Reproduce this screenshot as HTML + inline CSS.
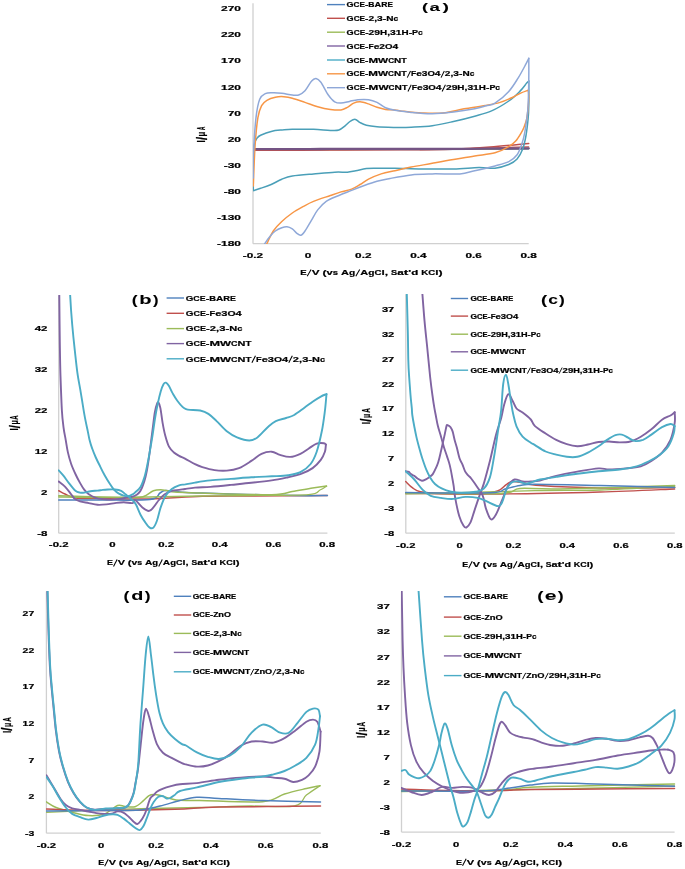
<!DOCTYPE html>
<html><head><meta charset="utf-8"><style>
html,body{margin:0;padding:0;background:#fff;}
svg{display:block;will-change:transform;filter:blur(0.3px);}
text{font-family:"Liberation Sans", sans-serif;stroke:#000;stroke-width:0.2px;stroke-linejoin:round;}
</style></head><body>
<svg width="685" height="869" viewBox="0 0 685 869">
<rect width="685" height="869" fill="#fff"/>
<clipPath id="ca"><rect x="253" y="3" width="277" height="241"/></clipPath>
<line x1="253.0" y1="3.2" x2="253.0" y2="243.7" stroke="#D0D0D0" stroke-width="1.3"/>
<line x1="253.0" y1="243.7" x2="528.7" y2="243.7" stroke="#D0D0D0" stroke-width="1.3"/>
<text x="221.08" y="11.1" font-size="7.7" font-weight="bold" fill="#000" textLength="6.64" lengthAdjust="spacingAndGlyphs">2</text>
<text x="227.72" y="11.1" font-size="7.7" font-weight="bold" fill="#000" textLength="6.64" lengthAdjust="spacingAndGlyphs">7</text>
<text x="234.36" y="11.1" font-size="7.7" font-weight="bold" fill="#000" textLength="6.64" lengthAdjust="spacingAndGlyphs">0</text>
<text x="221.08" y="37.2" font-size="7.7" font-weight="bold" fill="#000" textLength="6.64" lengthAdjust="spacingAndGlyphs">2</text>
<text x="227.72" y="37.2" font-size="7.7" font-weight="bold" fill="#000" textLength="6.64" lengthAdjust="spacingAndGlyphs">2</text>
<text x="234.36" y="37.2" font-size="7.7" font-weight="bold" fill="#000" textLength="6.64" lengthAdjust="spacingAndGlyphs">0</text>
<text x="221.08" y="63.4" font-size="7.7" font-weight="bold" fill="#000" textLength="6.64" lengthAdjust="spacingAndGlyphs">1</text>
<text x="227.72" y="63.4" font-size="7.7" font-weight="bold" fill="#000" textLength="6.64" lengthAdjust="spacingAndGlyphs">7</text>
<text x="234.36" y="63.4" font-size="7.7" font-weight="bold" fill="#000" textLength="6.64" lengthAdjust="spacingAndGlyphs">0</text>
<text x="221.08" y="89.5" font-size="7.7" font-weight="bold" fill="#000" textLength="6.64" lengthAdjust="spacingAndGlyphs">1</text>
<text x="227.72" y="89.5" font-size="7.7" font-weight="bold" fill="#000" textLength="6.64" lengthAdjust="spacingAndGlyphs">2</text>
<text x="234.36" y="89.5" font-size="7.7" font-weight="bold" fill="#000" textLength="6.64" lengthAdjust="spacingAndGlyphs">0</text>
<text x="227.72" y="115.7" font-size="7.7" font-weight="bold" fill="#000" textLength="6.64" lengthAdjust="spacingAndGlyphs">7</text>
<text x="234.36" y="115.7" font-size="7.7" font-weight="bold" fill="#000" textLength="6.64" lengthAdjust="spacingAndGlyphs">0</text>
<text x="227.72" y="141.8" font-size="7.7" font-weight="bold" fill="#000" textLength="6.64" lengthAdjust="spacingAndGlyphs">2</text>
<text x="234.36" y="141.8" font-size="7.7" font-weight="bold" fill="#000" textLength="6.64" lengthAdjust="spacingAndGlyphs">0</text>
<text x="223.71" y="168.0" font-size="7.7" font-weight="bold" fill="#000" textLength="4.01" lengthAdjust="spacingAndGlyphs">-</text>
<text x="227.72" y="168.0" font-size="7.7" font-weight="bold" fill="#000" textLength="6.64" lengthAdjust="spacingAndGlyphs">3</text>
<text x="234.36" y="168.0" font-size="7.7" font-weight="bold" fill="#000" textLength="6.64" lengthAdjust="spacingAndGlyphs">0</text>
<text x="223.71" y="194.1" font-size="7.7" font-weight="bold" fill="#000" textLength="4.01" lengthAdjust="spacingAndGlyphs">-</text>
<text x="227.72" y="194.1" font-size="7.7" font-weight="bold" fill="#000" textLength="6.64" lengthAdjust="spacingAndGlyphs">8</text>
<text x="234.36" y="194.1" font-size="7.7" font-weight="bold" fill="#000" textLength="6.64" lengthAdjust="spacingAndGlyphs">0</text>
<text x="217.07" y="220.3" font-size="7.7" font-weight="bold" fill="#000" textLength="4.01" lengthAdjust="spacingAndGlyphs">-</text>
<text x="221.08" y="220.3" font-size="7.7" font-weight="bold" fill="#000" textLength="6.64" lengthAdjust="spacingAndGlyphs">1</text>
<text x="227.72" y="220.3" font-size="7.7" font-weight="bold" fill="#000" textLength="6.64" lengthAdjust="spacingAndGlyphs">3</text>
<text x="234.36" y="220.3" font-size="7.7" font-weight="bold" fill="#000" textLength="6.64" lengthAdjust="spacingAndGlyphs">0</text>
<text x="217.07" y="246.4" font-size="7.7" font-weight="bold" fill="#000" textLength="4.01" lengthAdjust="spacingAndGlyphs">-</text>
<text x="221.08" y="246.4" font-size="7.7" font-weight="bold" fill="#000" textLength="6.64" lengthAdjust="spacingAndGlyphs">1</text>
<text x="227.72" y="246.4" font-size="7.7" font-weight="bold" fill="#000" textLength="6.64" lengthAdjust="spacingAndGlyphs">8</text>
<text x="234.36" y="246.4" font-size="7.7" font-weight="bold" fill="#000" textLength="6.64" lengthAdjust="spacingAndGlyphs">0</text>
<text x="242.82" y="258.2" font-size="7.4" font-weight="bold" fill="#000" textLength="3.96" lengthAdjust="spacingAndGlyphs">-</text>
<text x="246.78" y="258.2" font-size="7.4" font-weight="bold" fill="#000" textLength="6.56" lengthAdjust="spacingAndGlyphs">0</text>
<text x="253.35" y="258.2" font-size="7.4" font-weight="bold" fill="#000" textLength="3.27" lengthAdjust="spacingAndGlyphs">.</text>
<text x="256.62" y="258.2" font-size="7.4" font-weight="bold" fill="#000" textLength="6.56" lengthAdjust="spacingAndGlyphs">2</text>
<text x="304.87" y="258.2" font-size="7.4" font-weight="bold" fill="#000" textLength="6.56" lengthAdjust="spacingAndGlyphs">0</text>
<text x="355.10" y="258.2" font-size="7.4" font-weight="bold" fill="#000" textLength="6.56" lengthAdjust="spacingAndGlyphs">0</text>
<text x="361.67" y="258.2" font-size="7.4" font-weight="bold" fill="#000" textLength="3.27" lengthAdjust="spacingAndGlyphs">.</text>
<text x="364.93" y="258.2" font-size="7.4" font-weight="bold" fill="#000" textLength="6.56" lengthAdjust="spacingAndGlyphs">2</text>
<text x="410.25" y="258.2" font-size="7.4" font-weight="bold" fill="#000" textLength="6.56" lengthAdjust="spacingAndGlyphs">0</text>
<text x="416.82" y="258.2" font-size="7.4" font-weight="bold" fill="#000" textLength="3.27" lengthAdjust="spacingAndGlyphs">.</text>
<text x="420.08" y="258.2" font-size="7.4" font-weight="bold" fill="#000" textLength="6.56" lengthAdjust="spacingAndGlyphs">4</text>
<text x="465.40" y="258.2" font-size="7.4" font-weight="bold" fill="#000" textLength="6.56" lengthAdjust="spacingAndGlyphs">0</text>
<text x="471.97" y="258.2" font-size="7.4" font-weight="bold" fill="#000" textLength="3.27" lengthAdjust="spacingAndGlyphs">.</text>
<text x="475.23" y="258.2" font-size="7.4" font-weight="bold" fill="#000" textLength="6.56" lengthAdjust="spacingAndGlyphs">6</text>
<text x="520.55" y="258.2" font-size="7.4" font-weight="bold" fill="#000" textLength="6.56" lengthAdjust="spacingAndGlyphs">0</text>
<text x="527.12" y="258.2" font-size="7.4" font-weight="bold" fill="#000" textLength="3.27" lengthAdjust="spacingAndGlyphs">.</text>
<text x="530.38" y="258.2" font-size="7.4" font-weight="bold" fill="#000" textLength="6.56" lengthAdjust="spacingAndGlyphs">8</text>
<text x="300.20" y="275.1" font-size="7.3" font-weight="bold" fill="#000" textLength="6.40" lengthAdjust="spacingAndGlyphs">E</text>
<line x1="307.21" y1="276.34" x2="311.08" y2="269.55" stroke="#000" stroke-width="1.02"/>
<text x="311.69" y="275.1" font-size="7.3" font-weight="bold" fill="#000" textLength="7.84" lengthAdjust="spacingAndGlyphs">V</text>
<text x="322.50" y="275.1" font-size="7.3" font-weight="bold" fill="#000" textLength="4.09" lengthAdjust="spacingAndGlyphs">(</text>
<text x="326.59" y="275.1" font-size="7.3" font-weight="bold" fill="#000" textLength="6.23" lengthAdjust="spacingAndGlyphs">v</text>
<text x="332.82" y="275.1" font-size="7.3" font-weight="bold" fill="#000" textLength="5.25" lengthAdjust="spacingAndGlyphs">s</text>
<text x="341.04" y="275.1" font-size="7.3" font-weight="bold" fill="#000" textLength="7.96" lengthAdjust="spacingAndGlyphs">A</text>
<text x="349.00" y="275.1" font-size="7.3" font-weight="bold" fill="#000" textLength="6.21" lengthAdjust="spacingAndGlyphs">g</text>
<line x1="355.82" y1="276.34" x2="359.69" y2="269.55" stroke="#000" stroke-width="1.02"/>
<text x="360.30" y="275.1" font-size="7.3" font-weight="bold" fill="#000" textLength="7.96" lengthAdjust="spacingAndGlyphs">A</text>
<text x="368.26" y="275.1" font-size="7.3" font-weight="bold" fill="#000" textLength="6.21" lengthAdjust="spacingAndGlyphs">g</text>
<text x="374.46" y="275.1" font-size="7.3" font-weight="bold" fill="#000" textLength="6.98" lengthAdjust="spacingAndGlyphs">C</text>
<text x="381.45" y="275.1" font-size="7.3" font-weight="bold" fill="#000" textLength="3.23" lengthAdjust="spacingAndGlyphs">l</text>
<text x="384.68" y="275.1" font-size="7.3" font-weight="bold" fill="#000" textLength="3.39" lengthAdjust="spacingAndGlyphs">,</text>
<text x="391.04" y="275.1" font-size="7.3" font-weight="bold" fill="#000" textLength="6.19" lengthAdjust="spacingAndGlyphs">S</text>
<text x="397.23" y="275.1" font-size="7.3" font-weight="bold" fill="#000" textLength="6.48" lengthAdjust="spacingAndGlyphs">a</text>
<text x="403.71" y="275.1" font-size="7.3" font-weight="bold" fill="#000" textLength="4.55" lengthAdjust="spacingAndGlyphs">t</text>
<text x="408.26" y="275.1" font-size="7.3" font-weight="bold" fill="#000" textLength="2.97" lengthAdjust="spacingAndGlyphs">'</text>
<text x="411.23" y="275.1" font-size="7.3" font-weight="bold" fill="#000" textLength="7.06" lengthAdjust="spacingAndGlyphs">d</text>
<text x="421.26" y="275.1" font-size="7.3" font-weight="bold" fill="#000" textLength="7.13" lengthAdjust="spacingAndGlyphs">K</text>
<text x="428.39" y="275.1" font-size="7.3" font-weight="bold" fill="#000" textLength="6.98" lengthAdjust="spacingAndGlyphs">C</text>
<text x="435.38" y="275.1" font-size="7.3" font-weight="bold" fill="#000" textLength="3.23" lengthAdjust="spacingAndGlyphs">l</text>
<text x="438.61" y="275.1" font-size="7.3" font-weight="bold" fill="#000" textLength="4.09" lengthAdjust="spacingAndGlyphs">)</text>
<text transform="translate(205.20,130.01) rotate(-90) scale(0.680,1.661)" font-size="7.0" font-weight="bold" fill="#000" style="stroke-width:0.12px">A</text>
<text transform="translate(205.20,136.44) rotate(-90) scale(1.110,1.661)" font-size="7.0" font-weight="bold" fill="#000" style="stroke-width:0.12px">μ</text>
<text transform="translate(206.69,139.90) rotate(-90) scale(1.538,2.109)" font-size="7.0" font-weight="bold" fill="#000" style="stroke-width:0.12px">/</text>
<text transform="translate(205.20,142.60) rotate(-90) scale(1.084,1.661)" font-size="7.0" font-weight="bold" fill="#000" style="stroke-width:0.12px">I</text>
<text x="421.92" y="11.40" font-size="11.8" font-weight="bold" fill="#000" textLength="6.00" lengthAdjust="spacingAndGlyphs" style="stroke-width:0.05px">(</text>
<text x="429.46" y="11.40" font-size="11.8" font-weight="bold" fill="#000" textLength="10.41" lengthAdjust="spacingAndGlyphs" style="stroke-width:0.05px">a</text>
<text x="442.48" y="11.40" font-size="11.8" font-weight="bold" fill="#000" textLength="6.47" lengthAdjust="spacingAndGlyphs" style="stroke-width:0.05px">)</text>
<line x1="327.0" y1="4.6" x2="345.0" y2="4.6" stroke="#4F81BD" stroke-width="1.4"/>
<text x="346.60" y="7.2" font-size="7.2" font-weight="bold" fill="#000" textLength="7.00" lengthAdjust="spacingAndGlyphs">G</text>
<text x="353.60" y="7.2" font-size="7.2" font-weight="bold" fill="#000" textLength="5.90" lengthAdjust="spacingAndGlyphs">C</text>
<text x="359.51" y="7.2" font-size="7.2" font-weight="bold" fill="#000" textLength="5.41" lengthAdjust="spacingAndGlyphs">E</text>
<text x="364.92" y="7.2" font-size="7.2" font-weight="bold" fill="#000" textLength="3.40" lengthAdjust="spacingAndGlyphs">-</text>
<text x="368.31" y="7.2" font-size="7.2" font-weight="bold" fill="#000" textLength="6.20" lengthAdjust="spacingAndGlyphs">B</text>
<text x="374.51" y="7.2" font-size="7.2" font-weight="bold" fill="#000" textLength="6.73" lengthAdjust="spacingAndGlyphs">A</text>
<text x="381.24" y="7.2" font-size="7.2" font-weight="bold" fill="#000" textLength="6.25" lengthAdjust="spacingAndGlyphs">R</text>
<text x="387.49" y="7.2" font-size="7.2" font-weight="bold" fill="#000" textLength="5.41" lengthAdjust="spacingAndGlyphs">E</text>
<line x1="327.0" y1="18.3" x2="345.0" y2="18.3" stroke="#C0504D" stroke-width="1.4"/>
<text x="346.60" y="20.9" font-size="7.2" font-weight="bold" fill="#000" textLength="7.07" lengthAdjust="spacingAndGlyphs">G</text>
<text x="353.67" y="20.9" font-size="7.2" font-weight="bold" fill="#000" textLength="5.96" lengthAdjust="spacingAndGlyphs">C</text>
<text x="359.64" y="20.9" font-size="7.2" font-weight="bold" fill="#000" textLength="5.46" lengthAdjust="spacingAndGlyphs">E</text>
<text x="365.10" y="20.9" font-size="7.2" font-weight="bold" fill="#000" textLength="3.43" lengthAdjust="spacingAndGlyphs">-</text>
<text x="368.53" y="20.9" font-size="7.2" font-weight="bold" fill="#000" textLength="5.68" lengthAdjust="spacingAndGlyphs">2</text>
<text x="374.21" y="20.9" font-size="7.2" font-weight="bold" fill="#000" textLength="2.89" lengthAdjust="spacingAndGlyphs">,</text>
<text x="377.11" y="20.9" font-size="7.2" font-weight="bold" fill="#000" textLength="5.68" lengthAdjust="spacingAndGlyphs">3</text>
<text x="382.79" y="20.9" font-size="7.2" font-weight="bold" fill="#000" textLength="3.43" lengthAdjust="spacingAndGlyphs">-</text>
<text x="386.22" y="20.9" font-size="7.2" font-weight="bold" fill="#000" textLength="7.29" lengthAdjust="spacingAndGlyphs">N</text>
<text x="393.51" y="20.9" font-size="7.2" font-weight="bold" fill="#000" textLength="4.69" lengthAdjust="spacingAndGlyphs">c</text>
<line x1="327.0" y1="32.2" x2="345.0" y2="32.2" stroke="#9BBB59" stroke-width="1.4"/>
<text x="346.60" y="34.8" font-size="7.2" font-weight="bold" fill="#000" textLength="7.11" lengthAdjust="spacingAndGlyphs">G</text>
<text x="353.71" y="34.8" font-size="7.2" font-weight="bold" fill="#000" textLength="5.99" lengthAdjust="spacingAndGlyphs">C</text>
<text x="359.70" y="34.8" font-size="7.2" font-weight="bold" fill="#000" textLength="5.49" lengthAdjust="spacingAndGlyphs">E</text>
<text x="365.19" y="34.8" font-size="7.2" font-weight="bold" fill="#000" textLength="3.45" lengthAdjust="spacingAndGlyphs">-</text>
<text x="368.63" y="34.8" font-size="7.2" font-weight="bold" fill="#000" textLength="5.71" lengthAdjust="spacingAndGlyphs">2</text>
<text x="374.34" y="34.8" font-size="7.2" font-weight="bold" fill="#000" textLength="5.71" lengthAdjust="spacingAndGlyphs">9</text>
<text x="380.05" y="34.8" font-size="7.2" font-weight="bold" fill="#000" textLength="7.14" lengthAdjust="spacingAndGlyphs">H</text>
<text x="387.19" y="34.8" font-size="7.2" font-weight="bold" fill="#000" textLength="2.90" lengthAdjust="spacingAndGlyphs">,</text>
<text x="390.10" y="34.8" font-size="7.2" font-weight="bold" fill="#000" textLength="5.71" lengthAdjust="spacingAndGlyphs">3</text>
<text x="395.80" y="34.8" font-size="7.2" font-weight="bold" fill="#000" textLength="5.71" lengthAdjust="spacingAndGlyphs">1</text>
<text x="401.51" y="34.8" font-size="7.2" font-weight="bold" fill="#000" textLength="7.14" lengthAdjust="spacingAndGlyphs">H</text>
<text x="408.65" y="34.8" font-size="7.2" font-weight="bold" fill="#000" textLength="3.45" lengthAdjust="spacingAndGlyphs">-</text>
<text x="412.10" y="34.8" font-size="7.2" font-weight="bold" fill="#000" textLength="5.99" lengthAdjust="spacingAndGlyphs">P</text>
<text x="418.09" y="34.8" font-size="7.2" font-weight="bold" fill="#000" textLength="4.71" lengthAdjust="spacingAndGlyphs">c</text>
<line x1="327.0" y1="46.0" x2="345.0" y2="46.0" stroke="#8064A2" stroke-width="1.4"/>
<text x="346.60" y="48.6" font-size="7.2" font-weight="bold" fill="#000" textLength="7.07" lengthAdjust="spacingAndGlyphs">G</text>
<text x="353.67" y="48.6" font-size="7.2" font-weight="bold" fill="#000" textLength="5.96" lengthAdjust="spacingAndGlyphs">C</text>
<text x="359.63" y="48.6" font-size="7.2" font-weight="bold" fill="#000" textLength="5.46" lengthAdjust="spacingAndGlyphs">E</text>
<text x="365.09" y="48.6" font-size="7.2" font-weight="bold" fill="#000" textLength="3.43" lengthAdjust="spacingAndGlyphs">-</text>
<text x="368.52" y="48.6" font-size="7.2" font-weight="bold" fill="#000" textLength="5.17" lengthAdjust="spacingAndGlyphs">F</text>
<text x="373.69" y="48.6" font-size="7.2" font-weight="bold" fill="#000" textLength="5.66" lengthAdjust="spacingAndGlyphs">e</text>
<text x="379.35" y="48.6" font-size="7.2" font-weight="bold" fill="#000" textLength="5.68" lengthAdjust="spacingAndGlyphs">2</text>
<text x="385.03" y="48.6" font-size="7.2" font-weight="bold" fill="#000" textLength="7.50" lengthAdjust="spacingAndGlyphs">O</text>
<text x="392.52" y="48.6" font-size="7.2" font-weight="bold" fill="#000" textLength="5.68" lengthAdjust="spacingAndGlyphs">4</text>
<line x1="327.0" y1="60.0" x2="345.0" y2="60.0" stroke="#4BACC6" stroke-width="1.4"/>
<text x="346.60" y="62.6" font-size="7.2" font-weight="bold" fill="#000" textLength="7.03" lengthAdjust="spacingAndGlyphs">G</text>
<text x="353.63" y="62.6" font-size="7.2" font-weight="bold" fill="#000" textLength="5.93" lengthAdjust="spacingAndGlyphs">C</text>
<text x="359.56" y="62.6" font-size="7.2" font-weight="bold" fill="#000" textLength="5.43" lengthAdjust="spacingAndGlyphs">E</text>
<text x="364.99" y="62.6" font-size="7.2" font-weight="bold" fill="#000" textLength="3.41" lengthAdjust="spacingAndGlyphs">-</text>
<text x="368.40" y="62.6" font-size="7.2" font-weight="bold" fill="#000" textLength="9.71" lengthAdjust="spacingAndGlyphs">M</text>
<text x="378.11" y="62.6" font-size="7.2" font-weight="bold" fill="#000" textLength="10.07" lengthAdjust="spacingAndGlyphs">W</text>
<text x="388.18" y="62.6" font-size="7.2" font-weight="bold" fill="#000" textLength="5.93" lengthAdjust="spacingAndGlyphs">C</text>
<text x="394.11" y="62.6" font-size="7.2" font-weight="bold" fill="#000" textLength="7.25" lengthAdjust="spacingAndGlyphs">N</text>
<text x="401.36" y="62.6" font-size="7.2" font-weight="bold" fill="#000" textLength="5.44" lengthAdjust="spacingAndGlyphs">T</text>
<line x1="327.0" y1="73.8" x2="345.0" y2="73.8" stroke="#F79646" stroke-width="1.4"/>
<text x="346.60" y="76.4" font-size="7.2" font-weight="bold" fill="#000" textLength="7.02" lengthAdjust="spacingAndGlyphs">G</text>
<text x="353.62" y="76.4" font-size="7.2" font-weight="bold" fill="#000" textLength="5.92" lengthAdjust="spacingAndGlyphs">C</text>
<text x="359.54" y="76.4" font-size="7.2" font-weight="bold" fill="#000" textLength="5.43" lengthAdjust="spacingAndGlyphs">E</text>
<text x="364.97" y="76.4" font-size="7.2" font-weight="bold" fill="#000" textLength="3.41" lengthAdjust="spacingAndGlyphs">-</text>
<text x="368.38" y="76.4" font-size="7.2" font-weight="bold" fill="#000" textLength="9.70" lengthAdjust="spacingAndGlyphs">M</text>
<text x="378.07" y="76.4" font-size="7.2" font-weight="bold" fill="#000" textLength="10.06" lengthAdjust="spacingAndGlyphs">W</text>
<text x="388.14" y="76.4" font-size="7.2" font-weight="bold" fill="#000" textLength="5.92" lengthAdjust="spacingAndGlyphs">C</text>
<text x="394.06" y="76.4" font-size="7.2" font-weight="bold" fill="#000" textLength="7.24" lengthAdjust="spacingAndGlyphs">N</text>
<text x="401.30" y="76.4" font-size="7.2" font-weight="bold" fill="#000" textLength="5.44" lengthAdjust="spacingAndGlyphs">T</text>
<line x1="407.25" y1="77.62" x2="410.53" y2="70.92" stroke="#000" stroke-width="1.01"/>
<text x="411.04" y="76.4" font-size="7.2" font-weight="bold" fill="#000" textLength="5.14" lengthAdjust="spacingAndGlyphs">F</text>
<text x="416.18" y="76.4" font-size="7.2" font-weight="bold" fill="#000" textLength="5.62" lengthAdjust="spacingAndGlyphs">e</text>
<text x="421.80" y="76.4" font-size="7.2" font-weight="bold" fill="#000" textLength="5.64" lengthAdjust="spacingAndGlyphs">3</text>
<text x="427.44" y="76.4" font-size="7.2" font-weight="bold" fill="#000" textLength="7.45" lengthAdjust="spacingAndGlyphs">O</text>
<text x="434.89" y="76.4" font-size="7.2" font-weight="bold" fill="#000" textLength="5.64" lengthAdjust="spacingAndGlyphs">4</text>
<line x1="441.05" y1="77.62" x2="444.33" y2="70.92" stroke="#000" stroke-width="1.01"/>
<text x="444.84" y="76.4" font-size="7.2" font-weight="bold" fill="#000" textLength="5.64" lengthAdjust="spacingAndGlyphs">2</text>
<text x="450.49" y="76.4" font-size="7.2" font-weight="bold" fill="#000" textLength="2.87" lengthAdjust="spacingAndGlyphs">,</text>
<text x="453.36" y="76.4" font-size="7.2" font-weight="bold" fill="#000" textLength="5.64" lengthAdjust="spacingAndGlyphs">3</text>
<text x="459.00" y="76.4" font-size="7.2" font-weight="bold" fill="#000" textLength="3.41" lengthAdjust="spacingAndGlyphs">-</text>
<text x="462.41" y="76.4" font-size="7.2" font-weight="bold" fill="#000" textLength="7.24" lengthAdjust="spacingAndGlyphs">N</text>
<text x="469.65" y="76.4" font-size="7.2" font-weight="bold" fill="#000" textLength="4.65" lengthAdjust="spacingAndGlyphs">c</text>
<line x1="327.0" y1="87.7" x2="345.0" y2="87.7" stroke="#8FA8D8" stroke-width="1.4"/>
<text x="346.60" y="90.3" font-size="7.2" font-weight="bold" fill="#000" textLength="7.10" lengthAdjust="spacingAndGlyphs">G</text>
<text x="353.70" y="90.3" font-size="7.2" font-weight="bold" fill="#000" textLength="5.99" lengthAdjust="spacingAndGlyphs">C</text>
<text x="359.69" y="90.3" font-size="7.2" font-weight="bold" fill="#000" textLength="5.49" lengthAdjust="spacingAndGlyphs">E</text>
<text x="365.18" y="90.3" font-size="7.2" font-weight="bold" fill="#000" textLength="3.45" lengthAdjust="spacingAndGlyphs">-</text>
<text x="368.62" y="90.3" font-size="7.2" font-weight="bold" fill="#000" textLength="9.81" lengthAdjust="spacingAndGlyphs">M</text>
<text x="378.43" y="90.3" font-size="7.2" font-weight="bold" fill="#000" textLength="10.18" lengthAdjust="spacingAndGlyphs">W</text>
<text x="388.61" y="90.3" font-size="7.2" font-weight="bold" fill="#000" textLength="5.99" lengthAdjust="spacingAndGlyphs">C</text>
<text x="394.59" y="90.3" font-size="7.2" font-weight="bold" fill="#000" textLength="7.32" lengthAdjust="spacingAndGlyphs">N</text>
<text x="401.92" y="90.3" font-size="7.2" font-weight="bold" fill="#000" textLength="5.50" lengthAdjust="spacingAndGlyphs">T</text>
<line x1="407.94" y1="91.52" x2="411.25" y2="84.82" stroke="#000" stroke-width="1.01"/>
<text x="411.77" y="90.3" font-size="7.2" font-weight="bold" fill="#000" textLength="5.20" lengthAdjust="spacingAndGlyphs">F</text>
<text x="416.97" y="90.3" font-size="7.2" font-weight="bold" fill="#000" textLength="5.68" lengthAdjust="spacingAndGlyphs">e</text>
<text x="422.65" y="90.3" font-size="7.2" font-weight="bold" fill="#000" textLength="5.71" lengthAdjust="spacingAndGlyphs">3</text>
<text x="428.36" y="90.3" font-size="7.2" font-weight="bold" fill="#000" textLength="7.53" lengthAdjust="spacingAndGlyphs">O</text>
<text x="435.89" y="90.3" font-size="7.2" font-weight="bold" fill="#000" textLength="5.71" lengthAdjust="spacingAndGlyphs">4</text>
<line x1="442.12" y1="91.52" x2="445.44" y2="84.82" stroke="#000" stroke-width="1.01"/>
<text x="445.96" y="90.3" font-size="7.2" font-weight="bold" fill="#000" textLength="5.71" lengthAdjust="spacingAndGlyphs">2</text>
<text x="451.67" y="90.3" font-size="7.2" font-weight="bold" fill="#000" textLength="5.71" lengthAdjust="spacingAndGlyphs">9</text>
<text x="457.37" y="90.3" font-size="7.2" font-weight="bold" fill="#000" textLength="7.14" lengthAdjust="spacingAndGlyphs">H</text>
<text x="464.51" y="90.3" font-size="7.2" font-weight="bold" fill="#000" textLength="2.90" lengthAdjust="spacingAndGlyphs">,</text>
<text x="467.41" y="90.3" font-size="7.2" font-weight="bold" fill="#000" textLength="5.71" lengthAdjust="spacingAndGlyphs">3</text>
<text x="473.12" y="90.3" font-size="7.2" font-weight="bold" fill="#000" textLength="5.71" lengthAdjust="spacingAndGlyphs">1</text>
<text x="478.82" y="90.3" font-size="7.2" font-weight="bold" fill="#000" textLength="7.14" lengthAdjust="spacingAndGlyphs">H</text>
<text x="485.96" y="90.3" font-size="7.2" font-weight="bold" fill="#000" textLength="3.45" lengthAdjust="spacingAndGlyphs">-</text>
<text x="489.41" y="90.3" font-size="7.2" font-weight="bold" fill="#000" textLength="5.99" lengthAdjust="spacingAndGlyphs">P</text>
<text x="495.39" y="90.3" font-size="7.2" font-weight="bold" fill="#000" textLength="4.71" lengthAdjust="spacingAndGlyphs">c</text>
<path d="M255.0,149.6 C267.5,149.6 305.8,149.5 330.0,149.5 C354.2,149.5 376.7,149.4 400.0,149.4 C423.3,149.4 448.6,149.4 470.0,149.3 C491.4,149.2 518.9,148.9 528.7,148.8" fill="none" stroke="#4F81BD" stroke-width="1.5" stroke-linejoin="round" stroke-linecap="round" clip-path="url(#ca)"/>
<path d="M255.0,149.3 C267.5,149.3 305.8,149.4 330.0,149.4 C354.2,149.4 376.7,149.3 400.0,149.2 C423.3,149.1 448.6,149.1 470.0,149.0 C491.4,148.9 518.9,148.7 528.7,148.6" fill="none" stroke="#9BBB59" stroke-width="1.5" stroke-linejoin="round" stroke-linecap="round" clip-path="url(#ca)"/>
<path d="M255.0,150.3 C267.5,150.3 305.8,150.2 330.0,150.1 C354.2,150.0 379.5,150.0 400.0,149.8 C420.5,149.7 438.0,149.7 453.0,149.2 C468.0,148.7 477.4,148.0 490.0,147.0 C502.6,146.0 522.2,144.0 528.7,143.4" fill="none" stroke="#C0504D" stroke-width="1.5" stroke-linejoin="round" stroke-linecap="round" clip-path="url(#ca)"/>
<path d="M528.7,146.8 C520.6,147.0 498.1,147.7 480.0,148.2 C461.9,148.7 430.0,149.4 420.0,149.6" fill="none" stroke="#C0504D" stroke-width="1.2" stroke-linejoin="round" stroke-linecap="round" clip-path="url(#ca)"/>
<path d="M255.0,149.1 C262.5,149.1 287.5,149.2 300.0,149.2 C312.5,149.2 320.0,149.0 330.0,148.9 C340.0,148.8 348.3,148.8 360.0,148.8 C371.7,148.8 381.7,148.9 400.0,148.9 C418.3,148.9 448.6,148.9 470.0,148.8 C491.4,148.7 518.9,148.4 528.7,148.3" fill="none" stroke="#745484" stroke-width="2.3" stroke-linejoin="round" stroke-linecap="round" clip-path="url(#ca)"/>
<path d="M253.3,190.6 C253.3,185.5 253.2,167.6 253.3,160.0 C253.5,152.4 253.6,148.6 254.2,145.0 C254.8,141.4 255.9,139.8 257.0,138.2 C258.1,136.6 258.2,136.4 260.6,135.3 C263.0,134.2 267.7,132.3 271.2,131.4 C274.7,130.5 278.3,130.3 281.8,130.0 C285.3,129.7 287.0,129.4 292.3,129.3 C297.6,129.2 307.1,129.1 313.5,129.3 C319.9,129.5 326.2,130.3 330.4,130.4 C334.6,130.5 336.4,130.8 338.9,130.0 C341.4,129.2 343.4,127.2 345.3,125.7 C347.2,124.2 348.8,122.1 350.5,121.1 C352.2,120.0 353.8,119.2 355.4,119.4 C357.0,119.7 358.3,121.6 360.1,122.6 C361.9,123.6 363.6,124.6 366.4,125.3 C369.2,126.0 372.2,126.4 377.0,126.8 C381.8,127.2 389.3,127.3 395.0,127.4 C400.7,127.5 405.0,127.5 411.2,127.2 C417.4,126.9 425.2,126.7 432.3,125.7 C439.4,124.8 446.4,123.1 453.5,121.5 C460.6,119.9 468.3,118.0 474.7,116.2 C481.1,114.4 485.9,113.4 491.6,110.9 C497.3,108.4 504.1,104.2 508.8,101.0 C513.5,97.8 516.8,94.4 519.8,91.4 C522.8,88.4 525.2,84.8 526.7,83.1 C528.2,81.4 528.4,81.3 528.8,81.0" fill="none" stroke="#4A9FB8" stroke-width="1.5" stroke-linejoin="round" stroke-linecap="round" clip-path="url(#ca)"/>
<path d="M528.8,81.0 C528.8,85.0 528.9,98.9 528.8,105.2 C528.7,111.5 528.6,114.0 528.1,119.0 C527.6,124.0 526.9,130.4 526.0,135.5 C525.1,140.6 524.1,145.4 522.6,149.3 C521.1,153.2 519.4,156.5 517.1,159.0 C514.8,161.5 512.5,163.0 508.8,164.5 C505.1,166.0 500.0,167.7 495.0,168.2 C490.0,168.7 485.8,167.4 478.9,167.5 C472.0,167.6 463.0,168.8 453.5,169.0 C444.0,169.2 431.6,169.1 421.8,169.0 C412.1,168.9 402.5,168.3 395.0,168.2 C387.5,168.1 381.8,168.1 377.0,168.2 C372.2,168.3 369.9,168.2 366.4,168.6 C362.9,169.0 359.0,170.1 355.8,170.7 C352.6,171.3 350.9,171.9 347.4,172.2 C343.9,172.4 340.3,171.9 334.7,172.2 C329.1,172.5 320.6,173.3 313.5,173.9 C306.4,174.5 297.6,175.1 292.3,176.0 C287.0,176.9 285.3,177.8 281.8,179.2 C278.3,180.6 274.7,183.0 271.2,184.5 C267.7,186.0 263.6,187.3 260.6,188.3 C257.6,189.3 254.5,190.2 253.3,190.6" fill="none" stroke="#4A9FB8" stroke-width="1.5" stroke-linejoin="round" stroke-linecap="round" clip-path="url(#ca)"/>
<path d="M253.3,186.0 C253.6,179.2 254.3,156.6 255.1,145.2 C255.9,133.8 256.8,124.2 257.9,117.6 C259.0,111.0 260.1,108.5 261.6,105.6 C263.1,102.7 264.6,101.7 266.9,100.3 C269.2,98.9 272.6,97.8 275.4,97.2 C278.2,96.6 281.1,96.5 283.9,96.7 C286.7,96.9 288.8,97.2 292.3,98.2 C295.8,99.2 300.8,101.0 305.0,102.4 C309.2,103.8 313.5,105.5 317.7,106.7 C321.9,107.9 326.5,108.9 330.4,109.4 C334.3,109.9 338.2,110.2 341.0,109.9 C343.8,109.6 345.3,108.4 347.4,107.3 C349.5,106.2 351.6,104.0 353.7,103.1 C355.8,102.2 357.6,101.7 360.1,101.8 C362.6,101.9 365.7,103.0 368.5,103.9 C371.3,104.8 374.2,106.4 377.0,107.3 C379.8,108.2 382.5,109.0 385.5,109.4 C388.5,109.8 392.5,109.7 395.0,109.9 C397.5,110.2 396.1,110.4 400.6,110.9 C405.1,111.4 414.8,112.7 421.8,113.0 C428.9,113.3 435.8,113.7 442.9,113.0 C449.9,112.3 457.0,110.0 464.1,108.8 C471.2,107.6 479.3,106.7 485.3,105.6 C491.3,104.5 495.5,103.8 500.1,102.4 C504.7,101.0 509.3,98.8 512.8,97.2 C516.3,95.6 518.6,94.1 521.2,92.9 C523.8,91.7 527.1,90.7 528.3,90.2" fill="none" stroke="#F79646" stroke-width="1.5" stroke-linejoin="round" stroke-linecap="round" clip-path="url(#ca)"/>
<path d="M528.3,90.2 C528.4,91.3 528.8,94.0 528.8,96.9 C528.8,99.9 528.5,104.2 528.1,107.9 C527.8,111.6 527.4,115.8 526.7,119.0 C526.0,122.2 524.9,124.9 524.0,127.2 C523.1,129.5 522.6,130.5 521.2,132.8 C519.8,135.1 517.8,138.7 515.7,141.0 C513.6,143.3 512.2,144.6 508.8,146.6 C505.4,148.6 500.7,151.2 495.0,152.8 C489.3,154.4 481.6,154.8 474.7,155.9 C467.8,157.0 460.6,158.3 453.5,159.5 C446.4,160.7 439.4,162.0 432.3,163.3 C425.2,164.6 417.4,165.9 411.2,167.1 C405.0,168.3 400.0,169.6 395.0,170.7 C390.0,171.8 385.6,172.5 381.2,173.9 C376.8,175.3 372.0,177.4 368.5,179.2 C365.0,181.0 362.9,182.8 360.1,184.5 C357.3,186.2 354.8,187.9 351.6,189.1 C348.4,190.3 344.5,190.8 341.0,191.9 C337.5,193.0 335.0,193.9 330.4,195.5 C325.8,197.1 318.1,199.5 313.5,201.4 C308.9,203.3 306.4,204.8 302.9,206.7 C299.4,208.6 295.8,210.5 292.3,213.0 C288.8,215.5 285.0,218.5 281.8,221.5 C278.6,224.5 275.8,227.3 273.3,231.0 C270.8,234.7 268.6,240.2 266.9,243.7 C265.2,247.2 263.6,250.6 263.0,252.0" fill="none" stroke="#F79646" stroke-width="1.5" stroke-linejoin="round" stroke-linecap="round" clip-path="url(#ca)"/>
<path d="M253.3,178.0 C253.3,174.4 252.9,166.4 253.3,156.3 C253.8,146.2 254.9,127.1 256.0,117.6 C257.1,108.1 258.1,103.2 259.7,99.2 C261.2,95.2 263.1,94.8 265.3,93.7 C267.5,92.6 269.9,92.9 272.6,92.8 C275.4,92.7 278.5,92.9 281.8,93.3 C285.1,93.7 289.5,94.7 292.3,95.0 C295.1,95.3 296.6,95.7 298.7,95.0 C300.8,94.3 302.9,93.1 305.0,90.8 C307.1,88.5 309.6,83.3 311.4,81.3 C313.2,79.2 314.4,78.3 316.0,78.5 C317.6,78.7 318.8,79.5 320.9,82.3 C322.9,85.0 326.0,91.8 328.3,95.0 C330.6,98.2 332.6,100.5 334.7,101.8 C336.8,103.1 338.5,103.2 341.0,103.1 C343.5,103.0 346.7,102.0 349.5,101.4 C352.3,100.8 354.8,100.0 358.0,99.7 C361.2,99.4 365.3,99.2 368.5,99.7 C371.7,100.2 374.2,101.1 377.0,102.4 C379.8,103.7 382.5,106.4 385.5,107.7 C388.5,109.0 390.7,109.5 395.0,110.3 C399.3,111.1 405.0,111.8 411.2,112.4 C417.4,113.0 425.2,113.8 432.3,113.7 C439.4,113.6 446.4,112.8 453.5,112.0 C460.6,111.2 469.3,109.8 474.7,108.8 C480.1,107.8 482.6,106.8 486.0,105.8 C489.4,104.8 491.2,105.5 495.0,103.1 C498.8,100.7 504.9,95.7 508.8,91.4 C512.7,87.2 515.6,82.0 518.4,77.6 C521.1,73.2 523.6,68.4 525.3,65.2 C527.0,62.0 528.2,59.4 528.8,58.3" fill="none" stroke="#8FA8D8" stroke-width="1.5" stroke-linejoin="round" stroke-linecap="round" clip-path="url(#ca)"/>
<path d="M528.8,58.3 C528.8,61.5 528.9,69.8 528.8,77.6 C528.7,85.4 528.5,98.3 528.1,105.2 C527.8,112.1 527.3,114.4 526.7,119.0 C526.1,123.6 525.5,128.7 524.7,132.8 C523.9,136.9 523.2,140.1 521.9,143.8 C520.6,147.5 519.3,151.8 517.1,154.8 C514.9,157.8 512.5,159.8 508.8,161.7 C505.1,163.5 500.7,164.4 495.0,165.9 C489.3,167.4 480.6,169.4 474.7,170.7 C468.8,172.0 467.0,173.4 459.9,173.9 C452.8,174.4 440.4,173.7 432.3,173.9 C424.2,174.1 418.2,174.1 411.2,174.9 C404.1,175.7 395.7,177.4 390.0,178.5 C384.3,179.6 381.3,180.1 377.0,181.3 C372.7,182.5 368.5,184.0 364.3,185.5 C360.1,187.0 355.8,188.7 351.6,190.4 C347.4,192.1 343.1,193.7 338.9,195.5 C334.7,197.3 329.7,199.0 326.2,201.4 C322.7,203.8 320.2,206.7 317.7,209.9 C315.2,213.1 313.5,216.9 311.4,220.4 C309.3,223.9 306.8,228.5 305.0,231.0 C303.2,233.5 302.2,235.0 300.8,235.3 C299.4,235.7 298.0,234.2 296.6,233.1 C295.2,232.0 293.9,229.9 292.3,228.9 C290.7,227.9 288.8,227.0 287.0,226.8 C285.2,226.6 283.7,227.1 281.8,227.8 C279.9,228.5 277.3,229.6 275.4,231.0 C273.4,232.4 271.9,234.2 270.1,236.3 C268.3,238.4 266.3,241.4 264.8,243.7 C263.3,246.0 261.6,248.9 261.0,250.0" fill="none" stroke="#8FA8D8" stroke-width="1.5" stroke-linejoin="round" stroke-linecap="round" clip-path="url(#ca)"/>
<clipPath id="cb"><rect x="58" y="295" width="271" height="239"/></clipPath>
<line x1="58.7" y1="295.5" x2="58.7" y2="533.2" stroke="#D0D0D0" stroke-width="1.3"/>
<line x1="58.7" y1="533.2" x2="327.4" y2="533.2" stroke="#D0D0D0" stroke-width="1.3"/>
<text x="34.73" y="331.1" font-size="7.4" font-weight="bold" fill="#000" textLength="6.39" lengthAdjust="spacingAndGlyphs">4</text>
<text x="41.11" y="331.1" font-size="7.4" font-weight="bold" fill="#000" textLength="6.39" lengthAdjust="spacingAndGlyphs">2</text>
<text x="34.73" y="372.1" font-size="7.4" font-weight="bold" fill="#000" textLength="6.39" lengthAdjust="spacingAndGlyphs">3</text>
<text x="41.11" y="372.1" font-size="7.4" font-weight="bold" fill="#000" textLength="6.39" lengthAdjust="spacingAndGlyphs">2</text>
<text x="34.73" y="413.1" font-size="7.4" font-weight="bold" fill="#000" textLength="6.39" lengthAdjust="spacingAndGlyphs">2</text>
<text x="41.11" y="413.1" font-size="7.4" font-weight="bold" fill="#000" textLength="6.39" lengthAdjust="spacingAndGlyphs">2</text>
<text x="34.73" y="454.1" font-size="7.4" font-weight="bold" fill="#000" textLength="6.39" lengthAdjust="spacingAndGlyphs">1</text>
<text x="41.11" y="454.1" font-size="7.4" font-weight="bold" fill="#000" textLength="6.39" lengthAdjust="spacingAndGlyphs">2</text>
<text x="41.11" y="495.1" font-size="7.4" font-weight="bold" fill="#000" textLength="6.39" lengthAdjust="spacingAndGlyphs">2</text>
<text x="37.26" y="536.1" font-size="7.4" font-weight="bold" fill="#000" textLength="3.86" lengthAdjust="spacingAndGlyphs">-</text>
<text x="41.11" y="536.1" font-size="7.4" font-weight="bold" fill="#000" textLength="6.39" lengthAdjust="spacingAndGlyphs">8</text>
<text x="48.87" y="547.2" font-size="7.2" font-weight="bold" fill="#000" textLength="3.83" lengthAdjust="spacingAndGlyphs">-</text>
<text x="52.70" y="547.2" font-size="7.2" font-weight="bold" fill="#000" textLength="6.34" lengthAdjust="spacingAndGlyphs">0</text>
<text x="59.04" y="547.2" font-size="7.2" font-weight="bold" fill="#000" textLength="3.16" lengthAdjust="spacingAndGlyphs">.</text>
<text x="62.19" y="547.2" font-size="7.2" font-weight="bold" fill="#000" textLength="6.34" lengthAdjust="spacingAndGlyphs">2</text>
<text x="109.23" y="547.2" font-size="7.2" font-weight="bold" fill="#000" textLength="6.34" lengthAdjust="spacingAndGlyphs">0</text>
<text x="158.19" y="547.2" font-size="7.2" font-weight="bold" fill="#000" textLength="6.34" lengthAdjust="spacingAndGlyphs">0</text>
<text x="164.52" y="547.2" font-size="7.2" font-weight="bold" fill="#000" textLength="3.16" lengthAdjust="spacingAndGlyphs">.</text>
<text x="167.68" y="547.2" font-size="7.2" font-weight="bold" fill="#000" textLength="6.34" lengthAdjust="spacingAndGlyphs">2</text>
<text x="211.89" y="547.2" font-size="7.2" font-weight="bold" fill="#000" textLength="6.34" lengthAdjust="spacingAndGlyphs">0</text>
<text x="218.22" y="547.2" font-size="7.2" font-weight="bold" fill="#000" textLength="3.16" lengthAdjust="spacingAndGlyphs">.</text>
<text x="221.38" y="547.2" font-size="7.2" font-weight="bold" fill="#000" textLength="6.34" lengthAdjust="spacingAndGlyphs">4</text>
<text x="265.59" y="547.2" font-size="7.2" font-weight="bold" fill="#000" textLength="6.34" lengthAdjust="spacingAndGlyphs">0</text>
<text x="271.92" y="547.2" font-size="7.2" font-weight="bold" fill="#000" textLength="3.16" lengthAdjust="spacingAndGlyphs">.</text>
<text x="275.08" y="547.2" font-size="7.2" font-weight="bold" fill="#000" textLength="6.34" lengthAdjust="spacingAndGlyphs">6</text>
<text x="319.29" y="547.2" font-size="7.2" font-weight="bold" fill="#000" textLength="6.34" lengthAdjust="spacingAndGlyphs">0</text>
<text x="325.62" y="547.2" font-size="7.2" font-weight="bold" fill="#000" textLength="3.16" lengthAdjust="spacingAndGlyphs">.</text>
<text x="328.78" y="547.2" font-size="7.2" font-weight="bold" fill="#000" textLength="6.34" lengthAdjust="spacingAndGlyphs">8</text>
<text x="107.00" y="565.3" font-size="7.5" font-weight="bold" fill="#000" textLength="5.95" lengthAdjust="spacingAndGlyphs">E</text>
<line x1="113.52" y1="566.57" x2="117.11" y2="559.60" stroke="#000" stroke-width="1.05"/>
<text x="117.68" y="565.3" font-size="7.5" font-weight="bold" fill="#000" textLength="7.29" lengthAdjust="spacingAndGlyphs">V</text>
<text x="127.74" y="565.3" font-size="7.5" font-weight="bold" fill="#000" textLength="3.80" lengthAdjust="spacingAndGlyphs">(</text>
<text x="131.54" y="565.3" font-size="7.5" font-weight="bold" fill="#000" textLength="5.79" lengthAdjust="spacingAndGlyphs">v</text>
<text x="137.33" y="565.3" font-size="7.5" font-weight="bold" fill="#000" textLength="4.88" lengthAdjust="spacingAndGlyphs">s</text>
<text x="144.98" y="565.3" font-size="7.5" font-weight="bold" fill="#000" textLength="7.40" lengthAdjust="spacingAndGlyphs">A</text>
<text x="152.38" y="565.3" font-size="7.5" font-weight="bold" fill="#000" textLength="5.77" lengthAdjust="spacingAndGlyphs">g</text>
<line x1="158.72" y1="566.57" x2="162.31" y2="559.60" stroke="#000" stroke-width="1.05"/>
<text x="162.88" y="565.3" font-size="7.5" font-weight="bold" fill="#000" textLength="7.40" lengthAdjust="spacingAndGlyphs">A</text>
<text x="170.28" y="565.3" font-size="7.5" font-weight="bold" fill="#000" textLength="5.77" lengthAdjust="spacingAndGlyphs">g</text>
<text x="176.05" y="565.3" font-size="7.5" font-weight="bold" fill="#000" textLength="6.49" lengthAdjust="spacingAndGlyphs">C</text>
<text x="182.55" y="565.3" font-size="7.5" font-weight="bold" fill="#000" textLength="3.01" lengthAdjust="spacingAndGlyphs">l</text>
<text x="185.55" y="565.3" font-size="7.5" font-weight="bold" fill="#000" textLength="3.15" lengthAdjust="spacingAndGlyphs">,</text>
<text x="191.46" y="565.3" font-size="7.5" font-weight="bold" fill="#000" textLength="5.75" lengthAdjust="spacingAndGlyphs">S</text>
<text x="197.22" y="565.3" font-size="7.5" font-weight="bold" fill="#000" textLength="6.03" lengthAdjust="spacingAndGlyphs">a</text>
<text x="203.25" y="565.3" font-size="7.5" font-weight="bold" fill="#000" textLength="4.23" lengthAdjust="spacingAndGlyphs">t</text>
<text x="207.48" y="565.3" font-size="7.5" font-weight="bold" fill="#000" textLength="2.76" lengthAdjust="spacingAndGlyphs">'</text>
<text x="210.24" y="565.3" font-size="7.5" font-weight="bold" fill="#000" textLength="6.56" lengthAdjust="spacingAndGlyphs">d</text>
<text x="219.56" y="565.3" font-size="7.5" font-weight="bold" fill="#000" textLength="6.63" lengthAdjust="spacingAndGlyphs">K</text>
<text x="226.20" y="565.3" font-size="7.5" font-weight="bold" fill="#000" textLength="6.49" lengthAdjust="spacingAndGlyphs">C</text>
<text x="232.69" y="565.3" font-size="7.5" font-weight="bold" fill="#000" textLength="3.01" lengthAdjust="spacingAndGlyphs">l</text>
<text x="235.70" y="565.3" font-size="7.5" font-weight="bold" fill="#000" textLength="3.80" lengthAdjust="spacingAndGlyphs">)</text>
<text transform="translate(18.00,419.65) rotate(-90) scale(0.872,1.578)" font-size="7.0" font-weight="bold" fill="#000" style="stroke-width:0.12px">A</text>
<text transform="translate(18.00,424.57) rotate(-90) scale(0.960,1.578)" font-size="7.0" font-weight="bold" fill="#000" style="stroke-width:0.12px">μ</text>
<text transform="translate(19.50,428.30) rotate(-90) scale(1.648,2.033)" font-size="7.0" font-weight="bold" fill="#000" style="stroke-width:0.12px">/</text>
<text transform="translate(18.00,430.60) rotate(-90) scale(1.084,1.578)" font-size="7.0" font-weight="bold" fill="#000" style="stroke-width:0.12px">I</text>
<text x="131.73" y="304.30" font-size="12.4" font-weight="bold" fill="#000" textLength="5.88" lengthAdjust="spacingAndGlyphs" style="stroke-width:0.05px">(</text>
<text x="139.19" y="304.30" font-size="12.4" font-weight="bold" fill="#000" textLength="12.34" lengthAdjust="spacingAndGlyphs" style="stroke-width:0.05px">b</text>
<text x="152.98" y="304.30" font-size="12.4" font-weight="bold" fill="#000" textLength="5.53" lengthAdjust="spacingAndGlyphs" style="stroke-width:0.05px">)</text>
<line x1="166.6" y1="298.0" x2="184.0" y2="298.0" stroke="#4F81BD" stroke-width="1.4"/>
<text x="185.80" y="300.7" font-size="7.6" font-weight="bold" fill="#000" textLength="7.59" lengthAdjust="spacingAndGlyphs">G</text>
<text x="193.39" y="300.7" font-size="7.6" font-weight="bold" fill="#000" textLength="6.40" lengthAdjust="spacingAndGlyphs">C</text>
<text x="199.79" y="300.7" font-size="7.6" font-weight="bold" fill="#000" textLength="5.87" lengthAdjust="spacingAndGlyphs">E</text>
<text x="205.66" y="300.7" font-size="7.6" font-weight="bold" fill="#000" textLength="3.68" lengthAdjust="spacingAndGlyphs">-</text>
<text x="209.34" y="300.7" font-size="7.6" font-weight="bold" fill="#000" textLength="6.72" lengthAdjust="spacingAndGlyphs">B</text>
<text x="216.07" y="300.7" font-size="7.6" font-weight="bold" fill="#000" textLength="7.29" lengthAdjust="spacingAndGlyphs">A</text>
<text x="223.36" y="300.7" font-size="7.6" font-weight="bold" fill="#000" textLength="6.78" lengthAdjust="spacingAndGlyphs">R</text>
<text x="230.13" y="300.7" font-size="7.6" font-weight="bold" fill="#000" textLength="5.87" lengthAdjust="spacingAndGlyphs">E</text>
<line x1="166.6" y1="313.3" x2="184.0" y2="313.3" stroke="#C0504D" stroke-width="1.4"/>
<text x="185.80" y="316.0" font-size="7.6" font-weight="bold" fill="#000" textLength="7.67" lengthAdjust="spacingAndGlyphs">G</text>
<text x="193.47" y="316.0" font-size="7.6" font-weight="bold" fill="#000" textLength="6.47" lengthAdjust="spacingAndGlyphs">C</text>
<text x="199.94" y="316.0" font-size="7.6" font-weight="bold" fill="#000" textLength="5.93" lengthAdjust="spacingAndGlyphs">E</text>
<text x="205.86" y="316.0" font-size="7.6" font-weight="bold" fill="#000" textLength="3.72" lengthAdjust="spacingAndGlyphs">-</text>
<text x="209.59" y="316.0" font-size="7.6" font-weight="bold" fill="#000" textLength="5.61" lengthAdjust="spacingAndGlyphs">F</text>
<text x="215.20" y="316.0" font-size="7.6" font-weight="bold" fill="#000" textLength="6.14" lengthAdjust="spacingAndGlyphs">e</text>
<text x="221.34" y="316.0" font-size="7.6" font-weight="bold" fill="#000" textLength="6.16" lengthAdjust="spacingAndGlyphs">3</text>
<text x="227.50" y="316.0" font-size="7.6" font-weight="bold" fill="#000" textLength="8.13" lengthAdjust="spacingAndGlyphs">O</text>
<text x="235.64" y="316.0" font-size="7.6" font-weight="bold" fill="#000" textLength="6.16" lengthAdjust="spacingAndGlyphs">4</text>
<line x1="166.6" y1="328.6" x2="184.0" y2="328.6" stroke="#9BBB59" stroke-width="1.4"/>
<text x="185.80" y="331.3" font-size="7.6" font-weight="bold" fill="#000" textLength="7.76" lengthAdjust="spacingAndGlyphs">G</text>
<text x="193.56" y="331.3" font-size="7.6" font-weight="bold" fill="#000" textLength="6.54" lengthAdjust="spacingAndGlyphs">C</text>
<text x="200.10" y="331.3" font-size="7.6" font-weight="bold" fill="#000" textLength="5.99" lengthAdjust="spacingAndGlyphs">E</text>
<text x="206.09" y="331.3" font-size="7.6" font-weight="bold" fill="#000" textLength="3.77" lengthAdjust="spacingAndGlyphs">-</text>
<text x="209.86" y="331.3" font-size="7.6" font-weight="bold" fill="#000" textLength="6.23" lengthAdjust="spacingAndGlyphs">2</text>
<text x="216.09" y="331.3" font-size="7.6" font-weight="bold" fill="#000" textLength="3.17" lengthAdjust="spacingAndGlyphs">,</text>
<text x="219.26" y="331.3" font-size="7.6" font-weight="bold" fill="#000" textLength="6.23" lengthAdjust="spacingAndGlyphs">3</text>
<text x="225.50" y="331.3" font-size="7.6" font-weight="bold" fill="#000" textLength="3.77" lengthAdjust="spacingAndGlyphs">-</text>
<text x="229.26" y="331.3" font-size="7.6" font-weight="bold" fill="#000" textLength="8.00" lengthAdjust="spacingAndGlyphs">N</text>
<text x="237.26" y="331.3" font-size="7.6" font-weight="bold" fill="#000" textLength="5.14" lengthAdjust="spacingAndGlyphs">c</text>
<line x1="166.6" y1="343.6" x2="184.0" y2="343.6" stroke="#8064A2" stroke-width="1.4"/>
<text x="185.80" y="346.3" font-size="7.6" font-weight="bold" fill="#000" textLength="7.66" lengthAdjust="spacingAndGlyphs">G</text>
<text x="193.46" y="346.3" font-size="7.6" font-weight="bold" fill="#000" textLength="6.46" lengthAdjust="spacingAndGlyphs">C</text>
<text x="199.92" y="346.3" font-size="7.6" font-weight="bold" fill="#000" textLength="5.92" lengthAdjust="spacingAndGlyphs">E</text>
<text x="205.84" y="346.3" font-size="7.6" font-weight="bold" fill="#000" textLength="3.72" lengthAdjust="spacingAndGlyphs">-</text>
<text x="209.56" y="346.3" font-size="7.6" font-weight="bold" fill="#000" textLength="10.58" lengthAdjust="spacingAndGlyphs">M</text>
<text x="220.14" y="346.3" font-size="7.6" font-weight="bold" fill="#000" textLength="10.98" lengthAdjust="spacingAndGlyphs">W</text>
<text x="231.11" y="346.3" font-size="7.6" font-weight="bold" fill="#000" textLength="6.46" lengthAdjust="spacingAndGlyphs">C</text>
<text x="237.57" y="346.3" font-size="7.6" font-weight="bold" fill="#000" textLength="7.90" lengthAdjust="spacingAndGlyphs">N</text>
<text x="245.47" y="346.3" font-size="7.6" font-weight="bold" fill="#000" textLength="5.93" lengthAdjust="spacingAndGlyphs">T</text>
<line x1="166.6" y1="358.8" x2="184.0" y2="358.8" stroke="#4BACC6" stroke-width="1.4"/>
<text x="185.80" y="361.5" font-size="7.6" font-weight="bold" fill="#000" textLength="7.66" lengthAdjust="spacingAndGlyphs">G</text>
<text x="193.46" y="361.5" font-size="7.6" font-weight="bold" fill="#000" textLength="6.45" lengthAdjust="spacingAndGlyphs">C</text>
<text x="199.91" y="361.5" font-size="7.6" font-weight="bold" fill="#000" textLength="5.91" lengthAdjust="spacingAndGlyphs">E</text>
<text x="205.82" y="361.5" font-size="7.6" font-weight="bold" fill="#000" textLength="3.72" lengthAdjust="spacingAndGlyphs">-</text>
<text x="209.54" y="361.5" font-size="7.6" font-weight="bold" fill="#000" textLength="10.57" lengthAdjust="spacingAndGlyphs">M</text>
<text x="220.11" y="361.5" font-size="7.6" font-weight="bold" fill="#000" textLength="10.97" lengthAdjust="spacingAndGlyphs">W</text>
<text x="231.08" y="361.5" font-size="7.6" font-weight="bold" fill="#000" textLength="6.45" lengthAdjust="spacingAndGlyphs">C</text>
<text x="237.53" y="361.5" font-size="7.6" font-weight="bold" fill="#000" textLength="7.89" lengthAdjust="spacingAndGlyphs">N</text>
<text x="245.42" y="361.5" font-size="7.6" font-weight="bold" fill="#000" textLength="5.93" lengthAdjust="spacingAndGlyphs">T</text>
<line x1="251.91" y1="362.83" x2="255.48" y2="355.76" stroke="#000" stroke-width="1.06"/>
<text x="256.05" y="361.5" font-size="7.6" font-weight="bold" fill="#000" textLength="5.60" lengthAdjust="spacingAndGlyphs">F</text>
<text x="261.65" y="361.5" font-size="7.6" font-weight="bold" fill="#000" textLength="6.13" lengthAdjust="spacingAndGlyphs">e</text>
<text x="267.77" y="361.5" font-size="7.6" font-weight="bold" fill="#000" textLength="6.15" lengthAdjust="spacingAndGlyphs">3</text>
<text x="273.92" y="361.5" font-size="7.6" font-weight="bold" fill="#000" textLength="8.12" lengthAdjust="spacingAndGlyphs">O</text>
<text x="282.04" y="361.5" font-size="7.6" font-weight="bold" fill="#000" textLength="6.15" lengthAdjust="spacingAndGlyphs">4</text>
<line x1="288.76" y1="362.83" x2="292.33" y2="355.76" stroke="#000" stroke-width="1.06"/>
<text x="292.89" y="361.5" font-size="7.6" font-weight="bold" fill="#000" textLength="6.15" lengthAdjust="spacingAndGlyphs">2</text>
<text x="299.04" y="361.5" font-size="7.6" font-weight="bold" fill="#000" textLength="3.13" lengthAdjust="spacingAndGlyphs">,</text>
<text x="302.17" y="361.5" font-size="7.6" font-weight="bold" fill="#000" textLength="6.15" lengthAdjust="spacingAndGlyphs">3</text>
<text x="308.32" y="361.5" font-size="7.6" font-weight="bold" fill="#000" textLength="3.72" lengthAdjust="spacingAndGlyphs">-</text>
<text x="312.04" y="361.5" font-size="7.6" font-weight="bold" fill="#000" textLength="7.89" lengthAdjust="spacingAndGlyphs">N</text>
<text x="319.93" y="361.5" font-size="7.6" font-weight="bold" fill="#000" textLength="5.07" lengthAdjust="spacingAndGlyphs">c</text>
<path d="M58.7,490.7 C59.8,491.2 62.2,492.8 65.0,494.0 C67.8,495.2 69.6,497.1 75.4,497.9 C81.2,498.6 87.6,498.3 100.0,498.5 C112.4,498.7 132.9,499.4 150.0,499.0 C167.1,498.6 185.8,496.8 202.5,496.3 C219.2,495.8 229.2,496.1 250.0,496.0 C270.8,495.9 314.5,495.6 327.4,495.5" fill="none" stroke="#C0504D" stroke-width="1.5" stroke-linejoin="round" stroke-linecap="round" clip-path="url(#cb)"/>
<path d="M58.7,500.0 C65.6,500.0 84.8,500.1 100.0,500.0 C115.2,499.9 140.0,500.7 150.0,499.5 C160.0,498.3 157.4,494.5 160.0,493.0 C162.6,491.5 162.5,490.7 165.8,490.5 C169.1,490.3 173.9,491.6 180.0,492.0 C186.1,492.4 187.8,492.6 202.5,493.1 C217.2,493.6 250.7,494.6 268.2,495.0 C285.7,495.4 297.7,495.6 307.6,495.7 C317.5,495.8 324.1,495.5 327.4,495.5" fill="none" stroke="#4F81BD" stroke-width="1.5" stroke-linejoin="round" stroke-linecap="round" clip-path="url(#cb)"/>
<path d="M58.7,495.8 C65.6,496.0 87.3,496.7 100.0,497.0 C112.7,497.3 127.6,497.6 135.0,497.5 C142.4,497.4 141.1,497.4 144.2,496.3 C147.3,495.2 150.3,491.9 153.4,490.8 C156.5,489.7 159.5,489.8 162.6,489.9 C165.7,490.0 168.1,491.2 171.8,491.7 C175.5,492.1 180.3,492.4 185.0,492.6 C189.7,492.8 185.6,492.6 200.0,493.0 C214.4,493.4 256.3,494.9 271.7,494.7 C287.1,494.5 285.4,492.7 292.2,491.6 C299.0,490.5 306.9,489.0 312.6,488.1 C318.3,487.2 324.2,486.4 326.5,486.1" fill="none" stroke="#9BBB59" stroke-width="1.5" stroke-linejoin="round" stroke-linecap="round" clip-path="url(#cb)"/>
<path d="M326.5,486.1 C325.4,486.8 323.0,488.6 320.0,490.0 C317.0,491.4 320.2,493.8 308.5,494.7 C296.8,495.6 268.1,495.3 250.0,495.5 C231.9,495.7 216.7,495.8 200.0,496.0 C183.3,496.2 166.7,496.8 150.0,497.0 C133.3,497.2 115.2,497.5 100.0,497.5 C84.8,497.5 65.6,497.1 58.7,497.0" fill="none" stroke="#9BBB59" stroke-width="1.3" stroke-linejoin="round" stroke-linecap="round" clip-path="url(#cb)"/>
<path d="M59.3,290.0 C59.3,291.0 59.2,287.4 59.3,296.0 C59.4,304.6 59.6,328.3 59.8,341.7 C60.0,355.1 60.1,364.7 60.5,376.2 C60.9,387.7 61.4,402.1 61.9,410.7 C62.4,419.3 63.0,423.0 63.6,427.9 C64.2,432.8 65.0,435.7 65.7,439.8 C66.4,443.9 67.0,448.4 67.9,452.4 C68.8,456.4 69.8,459.9 71.1,463.7 C72.4,467.5 74.4,471.8 75.9,475.0 C77.4,478.2 78.6,480.4 80.0,482.9 C81.4,485.4 82.9,488.0 84.4,489.9 C85.9,491.8 86.9,493.0 88.8,494.3 C90.7,495.6 93.5,497.0 95.8,497.8 C98.1,498.6 100.3,498.8 102.8,499.1 C105.3,499.4 107.9,499.6 110.7,499.6 C113.5,499.6 116.9,499.2 119.4,498.9 C121.9,498.6 123.3,498.2 125.5,497.8 C127.7,497.4 130.7,497.2 132.6,496.6 C134.5,496.1 135.7,495.5 137.0,494.5 C138.3,493.5 139.3,492.9 140.5,490.8 C141.7,488.7 143.1,485.0 144.2,481.6 C145.3,478.2 146.0,475.5 146.9,470.6 C147.8,465.7 148.8,458.9 149.7,452.2 C150.6,445.4 151.6,436.8 152.5,430.1 C153.4,423.4 154.1,416.2 154.9,411.8 C155.7,407.4 156.5,405.0 157.1,403.5 C157.7,402.0 157.9,401.8 158.5,402.6 C159.1,403.4 159.7,404.7 160.4,408.1 C161.1,411.5 161.8,418.2 162.6,422.8 C163.4,427.4 164.2,431.7 165.3,435.7 C166.4,439.7 167.6,443.9 169.0,446.7 C170.4,449.4 171.9,450.7 173.6,452.2 C175.3,453.7 177.2,454.8 179.1,455.9 C181.0,457.0 182.3,457.2 185.0,458.6 C187.7,460.0 192.1,462.8 195.0,464.2 C197.9,465.6 199.1,466.1 202.3,467.1 C205.6,468.1 210.4,469.5 214.5,470.1 C218.6,470.7 222.7,470.9 226.8,470.6 C230.9,470.3 234.9,469.7 239.0,468.1 C243.1,466.5 247.6,463.3 251.3,460.9 C255.1,458.5 258.1,455.3 261.5,453.8 C264.9,452.3 268.6,451.5 271.7,451.7 C274.8,451.9 276.8,453.9 279.9,454.8 C283.0,455.7 286.7,457.1 290.1,456.9 C293.5,456.7 297.3,455.2 300.4,453.8 C303.5,452.4 305.8,450.4 308.5,448.7 C311.2,447.0 314.1,444.5 316.7,443.6 C319.3,442.7 322.4,443.0 323.9,443.2 C325.4,443.4 325.6,444.4 325.9,444.6" fill="none" stroke="#8064A2" stroke-width="1.9" stroke-linejoin="round" stroke-linecap="round" clip-path="url(#cb)"/>
<path d="M325.9,444.6 C325.7,445.8 325.8,449.1 324.9,451.7 C324.0,454.2 322.9,457.2 320.8,459.9 C318.8,462.6 316.0,465.7 312.6,468.1 C309.2,470.5 304.5,472.7 300.4,474.2 C296.3,475.7 292.9,476.3 288.1,477.3 C283.3,478.3 277.8,479.5 271.7,480.4 C265.6,481.3 258.1,482.1 251.3,482.8 C244.5,483.6 237.7,484.2 230.9,484.9 C224.1,485.6 216.4,486.4 210.4,486.9 C204.4,487.3 199.2,487.2 195.0,487.6 C190.8,488.0 187.7,488.6 185.0,489.0 C182.3,489.4 181.3,489.6 179.1,489.9 C176.9,490.2 174.2,490.0 171.8,490.8 C169.4,491.6 166.6,493.0 164.4,494.5 C162.2,496.0 160.7,497.9 158.9,500.0 C157.1,502.1 155.1,505.6 153.4,507.4 C151.7,509.2 150.6,511.0 148.8,511.0 C147.0,511.0 144.7,509.2 142.4,507.4 C140.1,505.6 136.6,500.7 135.0,500.0 C133.4,499.3 134.5,502.7 132.6,503.1 C130.7,503.5 126.7,502.2 123.8,502.2 C120.9,502.2 117.9,502.7 115.0,503.1 C112.1,503.5 109.2,504.1 106.3,504.4 C103.4,504.7 100.4,505.0 97.5,504.8 C94.6,504.6 91.7,503.7 88.8,503.1 C85.9,502.5 82.3,502.0 80.0,501.3 C77.7,500.6 76.5,500.1 75.0,499.0 C73.5,497.9 72.9,496.5 71.3,494.5 C69.7,492.5 67.3,489.0 65.2,486.8 C63.1,484.6 59.8,482.4 58.7,481.5" fill="none" stroke="#8064A2" stroke-width="1.9" stroke-linejoin="round" stroke-linecap="round" clip-path="url(#cb)"/>
<path d="M70.2,290.0 C70.2,291.0 69.9,290.2 70.2,296.0 C70.5,301.8 71.4,315.4 72.2,324.5 C73.0,333.6 73.9,342.2 74.8,350.3 C75.7,358.4 76.4,365.6 77.4,372.8 C78.4,380.0 79.8,386.5 80.9,393.4 C82.1,400.3 83.2,407.8 84.3,414.1 C85.4,420.4 86.9,427.1 87.8,431.4 C88.7,435.7 88.8,436.9 89.5,439.8 C90.2,442.7 91.2,445.9 92.3,448.8 C93.3,451.8 94.5,454.6 95.8,457.5 C97.1,460.4 98.6,463.4 100.1,466.3 C101.5,469.2 102.9,472.1 104.5,475.0 C106.1,477.9 108.2,481.3 109.8,483.8 C111.4,486.3 112.8,488.3 114.2,489.9 C115.7,491.5 116.9,492.4 118.5,493.4 C120.1,494.3 122.2,495.2 123.8,495.6 C125.4,496.1 126.7,496.3 128.2,496.1 C129.7,495.9 131.5,494.9 132.6,494.3 C133.7,493.7 133.7,493.8 135.0,492.6 C136.3,491.4 139.0,489.6 140.5,487.1 C142.0,484.7 143.1,481.3 144.2,477.9 C145.3,474.5 146.0,471.2 146.9,466.9 C147.8,462.6 148.8,457.4 149.7,452.2 C150.6,447.0 151.6,441.5 152.5,435.7 C153.4,429.9 154.3,422.8 155.2,417.3 C156.1,411.8 157.1,406.9 158.0,402.6 C158.9,398.3 159.8,394.6 160.7,391.5 C161.6,388.4 162.6,385.7 163.5,384.2 C164.4,382.7 165.0,382.4 165.9,382.7 C166.8,383.0 167.9,384.2 169.0,386.0 C170.1,387.8 171.3,390.9 172.7,393.4 C174.1,395.8 175.6,398.4 177.3,400.7 C179.0,403.0 181.4,405.8 182.8,407.2 C184.2,408.6 184.8,408.8 186.0,409.2 C187.2,409.6 187.6,409.7 190.0,409.9 C192.4,410.1 197.1,409.8 200.2,410.5 C203.3,411.2 205.7,412.1 208.4,413.9 C211.1,415.7 213.5,418.2 216.6,421.1 C219.7,424.0 223.4,428.6 226.8,431.3 C230.2,434.0 233.2,435.9 237.0,437.4 C240.8,438.9 245.9,440.5 249.3,440.5 C252.7,440.5 254.3,439.6 257.4,437.4 C260.5,435.2 264.6,429.9 267.7,427.2 C270.8,424.5 272.7,422.6 275.8,421.1 C278.9,419.6 283.0,419.0 286.1,418.0 C289.2,417.0 291.1,416.7 294.2,415.0 C297.2,413.3 301.3,410.0 304.4,407.8 C307.5,405.6 309.9,403.6 312.6,401.7 C315.3,399.8 318.5,397.9 320.8,396.6 C323.1,395.3 325.6,394.5 326.5,394.1" fill="none" stroke="#4BACC6" stroke-width="1.9" stroke-linejoin="round" stroke-linecap="round" clip-path="url(#cb)"/>
<path d="M326.5,394.1 C326.2,396.9 325.7,404.7 324.9,410.9 C324.1,417.1 323.2,424.5 321.8,431.3 C320.4,438.1 318.6,446.2 316.7,451.7 C314.8,457.1 313.3,460.6 310.6,464.0 C307.9,467.4 304.1,470.3 300.4,472.2 C296.6,474.1 292.9,474.6 288.1,475.3 C283.3,476.0 277.8,476.0 271.7,476.3 C265.6,476.6 258.1,476.9 251.3,477.3 C244.5,477.7 237.7,478.4 230.9,478.9 C224.1,479.4 216.4,479.8 210.4,480.4 C204.4,481.0 199.2,481.9 195.0,482.6 C190.8,483.3 187.7,483.9 185.0,484.4 C182.3,484.8 181.3,484.5 179.1,485.3 C176.9,486.1 174.1,487.2 171.8,489.0 C169.5,490.8 167.2,493.2 165.3,496.3 C163.5,499.4 162.1,503.4 160.7,507.4 C159.3,511.4 158.3,516.8 157.1,520.2 C155.9,523.6 154.6,526.4 153.4,527.6 C152.2,528.8 151.1,528.5 149.7,527.6 C148.3,526.7 146.6,524.2 145.1,522.1 C143.6,520.0 142.0,517.6 140.5,514.7 C139.0,511.8 137.4,507.2 136.1,504.8 C134.8,502.4 133.8,501.7 132.6,500.4 C131.4,499.1 130.2,497.9 129.0,496.9 C127.8,495.9 126.8,495.3 125.5,494.3 C124.2,493.3 123.0,491.6 121.2,490.8 C119.5,490.0 117.2,489.7 115.0,489.5 C112.8,489.3 110.0,489.4 108.0,489.5 C106.0,489.6 104.5,489.7 102.8,489.9 C101.0,490.1 99.5,490.4 97.5,490.6 C95.5,490.8 92.7,490.9 90.5,491.2 C88.3,491.5 86.2,492.4 84.4,492.6 C82.7,492.8 81.5,492.9 80.0,492.6 C78.5,492.3 77.2,492.2 75.4,490.7 C73.6,489.2 71.3,486.2 69.3,483.6 C67.3,481.1 65.0,477.6 63.2,475.4 C61.4,473.2 59.5,471.1 58.7,470.3" fill="none" stroke="#4BACC6" stroke-width="1.9" stroke-linejoin="round" stroke-linecap="round" clip-path="url(#cb)"/>
<clipPath id="cc"><rect x="405" y="294" width="271" height="240"/></clipPath>
<line x1="405.8" y1="294.2" x2="405.8" y2="533.2" stroke="#D0D0D0" stroke-width="1.3"/>
<line x1="405.8" y1="533.2" x2="674.8" y2="533.2" stroke="#D0D0D0" stroke-width="1.3"/>
<text x="381.93" y="311.8" font-size="7.4" font-weight="bold" fill="#000" textLength="6.18" lengthAdjust="spacingAndGlyphs">3</text>
<text x="388.12" y="311.8" font-size="7.4" font-weight="bold" fill="#000" textLength="6.18" lengthAdjust="spacingAndGlyphs">7</text>
<text x="381.93" y="336.7" font-size="7.4" font-weight="bold" fill="#000" textLength="6.18" lengthAdjust="spacingAndGlyphs">3</text>
<text x="388.12" y="336.7" font-size="7.4" font-weight="bold" fill="#000" textLength="6.18" lengthAdjust="spacingAndGlyphs">2</text>
<text x="381.93" y="361.6" font-size="7.4" font-weight="bold" fill="#000" textLength="6.18" lengthAdjust="spacingAndGlyphs">2</text>
<text x="388.12" y="361.6" font-size="7.4" font-weight="bold" fill="#000" textLength="6.18" lengthAdjust="spacingAndGlyphs">7</text>
<text x="381.93" y="386.5" font-size="7.4" font-weight="bold" fill="#000" textLength="6.18" lengthAdjust="spacingAndGlyphs">2</text>
<text x="388.12" y="386.5" font-size="7.4" font-weight="bold" fill="#000" textLength="6.18" lengthAdjust="spacingAndGlyphs">2</text>
<text x="381.93" y="411.4" font-size="7.4" font-weight="bold" fill="#000" textLength="6.18" lengthAdjust="spacingAndGlyphs">1</text>
<text x="388.12" y="411.4" font-size="7.4" font-weight="bold" fill="#000" textLength="6.18" lengthAdjust="spacingAndGlyphs">7</text>
<text x="381.93" y="436.3" font-size="7.4" font-weight="bold" fill="#000" textLength="6.18" lengthAdjust="spacingAndGlyphs">1</text>
<text x="388.12" y="436.3" font-size="7.4" font-weight="bold" fill="#000" textLength="6.18" lengthAdjust="spacingAndGlyphs">2</text>
<text x="388.12" y="461.2" font-size="7.4" font-weight="bold" fill="#000" textLength="6.18" lengthAdjust="spacingAndGlyphs">7</text>
<text x="388.12" y="486.1" font-size="7.4" font-weight="bold" fill="#000" textLength="6.18" lengthAdjust="spacingAndGlyphs">2</text>
<text x="384.38" y="511.0" font-size="7.4" font-weight="bold" fill="#000" textLength="3.74" lengthAdjust="spacingAndGlyphs">-</text>
<text x="388.12" y="511.0" font-size="7.4" font-weight="bold" fill="#000" textLength="6.18" lengthAdjust="spacingAndGlyphs">3</text>
<text x="384.38" y="535.9" font-size="7.4" font-weight="bold" fill="#000" textLength="3.74" lengthAdjust="spacingAndGlyphs">-</text>
<text x="388.12" y="535.9" font-size="7.4" font-weight="bold" fill="#000" textLength="6.18" lengthAdjust="spacingAndGlyphs">8</text>
<text x="396.13" y="547.6" font-size="7.2" font-weight="bold" fill="#000" textLength="3.77" lengthAdjust="spacingAndGlyphs">-</text>
<text x="399.90" y="547.6" font-size="7.2" font-weight="bold" fill="#000" textLength="6.23" lengthAdjust="spacingAndGlyphs">0</text>
<text x="406.13" y="547.6" font-size="7.2" font-weight="bold" fill="#000" textLength="3.11" lengthAdjust="spacingAndGlyphs">.</text>
<text x="409.24" y="547.6" font-size="7.2" font-weight="bold" fill="#000" textLength="6.23" lengthAdjust="spacingAndGlyphs">2</text>
<text x="456.48" y="547.6" font-size="7.2" font-weight="bold" fill="#000" textLength="6.23" lengthAdjust="spacingAndGlyphs">0</text>
<text x="505.61" y="547.6" font-size="7.2" font-weight="bold" fill="#000" textLength="6.23" lengthAdjust="spacingAndGlyphs">0</text>
<text x="511.85" y="547.6" font-size="7.2" font-weight="bold" fill="#000" textLength="3.11" lengthAdjust="spacingAndGlyphs">.</text>
<text x="514.95" y="547.6" font-size="7.2" font-weight="bold" fill="#000" textLength="6.23" lengthAdjust="spacingAndGlyphs">2</text>
<text x="559.41" y="547.6" font-size="7.2" font-weight="bold" fill="#000" textLength="6.23" lengthAdjust="spacingAndGlyphs">0</text>
<text x="565.65" y="547.6" font-size="7.2" font-weight="bold" fill="#000" textLength="3.11" lengthAdjust="spacingAndGlyphs">.</text>
<text x="568.75" y="547.6" font-size="7.2" font-weight="bold" fill="#000" textLength="6.23" lengthAdjust="spacingAndGlyphs">4</text>
<text x="613.21" y="547.6" font-size="7.2" font-weight="bold" fill="#000" textLength="6.23" lengthAdjust="spacingAndGlyphs">0</text>
<text x="619.45" y="547.6" font-size="7.2" font-weight="bold" fill="#000" textLength="3.11" lengthAdjust="spacingAndGlyphs">.</text>
<text x="622.55" y="547.6" font-size="7.2" font-weight="bold" fill="#000" textLength="6.23" lengthAdjust="spacingAndGlyphs">6</text>
<text x="667.01" y="547.6" font-size="7.2" font-weight="bold" fill="#000" textLength="6.23" lengthAdjust="spacingAndGlyphs">0</text>
<text x="673.25" y="547.6" font-size="7.2" font-weight="bold" fill="#000" textLength="3.11" lengthAdjust="spacingAndGlyphs">.</text>
<text x="676.35" y="547.6" font-size="7.2" font-weight="bold" fill="#000" textLength="6.23" lengthAdjust="spacingAndGlyphs">8</text>
<text x="462.20" y="566.9" font-size="7.5" font-weight="bold" fill="#000" textLength="5.89" lengthAdjust="spacingAndGlyphs">E</text>
<line x1="468.66" y1="568.17" x2="472.21" y2="561.20" stroke="#000" stroke-width="1.05"/>
<text x="472.78" y="566.9" font-size="7.5" font-weight="bold" fill="#000" textLength="7.22" lengthAdjust="spacingAndGlyphs">V</text>
<text x="482.73" y="566.9" font-size="7.5" font-weight="bold" fill="#000" textLength="3.77" lengthAdjust="spacingAndGlyphs">(</text>
<text x="486.50" y="566.9" font-size="7.5" font-weight="bold" fill="#000" textLength="5.73" lengthAdjust="spacingAndGlyphs">v</text>
<text x="492.23" y="566.9" font-size="7.5" font-weight="bold" fill="#000" textLength="4.84" lengthAdjust="spacingAndGlyphs">s</text>
<text x="499.80" y="566.9" font-size="7.5" font-weight="bold" fill="#000" textLength="7.33" lengthAdjust="spacingAndGlyphs">A</text>
<text x="507.13" y="566.9" font-size="7.5" font-weight="bold" fill="#000" textLength="5.72" lengthAdjust="spacingAndGlyphs">g</text>
<line x1="513.41" y1="568.17" x2="516.97" y2="561.20" stroke="#000" stroke-width="1.05"/>
<text x="517.53" y="566.9" font-size="7.5" font-weight="bold" fill="#000" textLength="7.33" lengthAdjust="spacingAndGlyphs">A</text>
<text x="524.86" y="566.9" font-size="7.5" font-weight="bold" fill="#000" textLength="5.72" lengthAdjust="spacingAndGlyphs">g</text>
<text x="530.58" y="566.9" font-size="7.5" font-weight="bold" fill="#000" textLength="6.43" lengthAdjust="spacingAndGlyphs">C</text>
<text x="537.01" y="566.9" font-size="7.5" font-weight="bold" fill="#000" textLength="2.98" lengthAdjust="spacingAndGlyphs">l</text>
<text x="539.98" y="566.9" font-size="7.5" font-weight="bold" fill="#000" textLength="3.12" lengthAdjust="spacingAndGlyphs">,</text>
<text x="545.83" y="566.9" font-size="7.5" font-weight="bold" fill="#000" textLength="5.70" lengthAdjust="spacingAndGlyphs">S</text>
<text x="551.53" y="566.9" font-size="7.5" font-weight="bold" fill="#000" textLength="5.97" lengthAdjust="spacingAndGlyphs">a</text>
<text x="557.50" y="566.9" font-size="7.5" font-weight="bold" fill="#000" textLength="4.19" lengthAdjust="spacingAndGlyphs">t</text>
<text x="561.70" y="566.9" font-size="7.5" font-weight="bold" fill="#000" textLength="2.73" lengthAdjust="spacingAndGlyphs">'</text>
<text x="564.43" y="566.9" font-size="7.5" font-weight="bold" fill="#000" textLength="6.50" lengthAdjust="spacingAndGlyphs">d</text>
<text x="573.66" y="566.9" font-size="7.5" font-weight="bold" fill="#000" textLength="6.57" lengthAdjust="spacingAndGlyphs">K</text>
<text x="580.23" y="566.9" font-size="7.5" font-weight="bold" fill="#000" textLength="6.43" lengthAdjust="spacingAndGlyphs">C</text>
<text x="586.66" y="566.9" font-size="7.5" font-weight="bold" fill="#000" textLength="2.98" lengthAdjust="spacingAndGlyphs">l</text>
<text x="589.63" y="566.9" font-size="7.5" font-weight="bold" fill="#000" textLength="3.77" lengthAdjust="spacingAndGlyphs">)</text>
<text transform="translate(369.90,412.75) rotate(-90) scale(0.913,1.516)" font-size="7.0" font-weight="bold" fill="#000" style="stroke-width:0.12px">A</text>
<text transform="translate(369.90,417.91) rotate(-90) scale(1.006,1.516)" font-size="7.0" font-weight="bold" fill="#000" style="stroke-width:0.12px">μ</text>
<text transform="translate(371.41,421.82) rotate(-90) scale(1.727,1.975)" font-size="7.0" font-weight="bold" fill="#000" style="stroke-width:0.12px">/</text>
<text transform="translate(369.90,424.22) rotate(-90) scale(1.135,1.516)" font-size="7.0" font-weight="bold" fill="#000" style="stroke-width:0.12px">I</text>
<text x="541.08" y="304.30" font-size="12.4" font-weight="bold" fill="#000" textLength="6.24" lengthAdjust="spacingAndGlyphs" style="stroke-width:0.05px">(</text>
<text x="548.32" y="304.30" font-size="12.4" font-weight="bold" fill="#000" textLength="9.69" lengthAdjust="spacingAndGlyphs" style="stroke-width:0.05px">c</text>
<text x="558.98" y="304.30" font-size="12.4" font-weight="bold" fill="#000" textLength="5.77" lengthAdjust="spacingAndGlyphs" style="stroke-width:0.05px">)</text>
<line x1="450.8" y1="298.5" x2="468.1" y2="298.5" stroke="#4F81BD" stroke-width="1.4"/>
<text x="470.40" y="300.9" font-size="6.6" font-weight="bold" fill="#000" textLength="6.49" lengthAdjust="spacingAndGlyphs">G</text>
<text x="476.89" y="300.9" font-size="6.6" font-weight="bold" fill="#000" textLength="5.47" lengthAdjust="spacingAndGlyphs">C</text>
<text x="482.36" y="300.9" font-size="6.6" font-weight="bold" fill="#000" textLength="5.01" lengthAdjust="spacingAndGlyphs">E</text>
<text x="487.37" y="300.9" font-size="6.6" font-weight="bold" fill="#000" textLength="3.15" lengthAdjust="spacingAndGlyphs">-</text>
<text x="490.52" y="300.9" font-size="6.6" font-weight="bold" fill="#000" textLength="5.75" lengthAdjust="spacingAndGlyphs">B</text>
<text x="496.26" y="300.9" font-size="6.6" font-weight="bold" fill="#000" textLength="6.23" lengthAdjust="spacingAndGlyphs">A</text>
<text x="502.50" y="300.9" font-size="6.6" font-weight="bold" fill="#000" textLength="5.79" lengthAdjust="spacingAndGlyphs">R</text>
<text x="508.29" y="300.9" font-size="6.6" font-weight="bold" fill="#000" textLength="5.01" lengthAdjust="spacingAndGlyphs">E</text>
<line x1="450.8" y1="316.1" x2="468.1" y2="316.1" stroke="#C0504D" stroke-width="1.4"/>
<text x="470.40" y="318.5" font-size="6.6" font-weight="bold" fill="#000" textLength="6.56" lengthAdjust="spacingAndGlyphs">G</text>
<text x="476.96" y="318.5" font-size="6.6" font-weight="bold" fill="#000" textLength="5.53" lengthAdjust="spacingAndGlyphs">C</text>
<text x="482.49" y="318.5" font-size="6.6" font-weight="bold" fill="#000" textLength="5.07" lengthAdjust="spacingAndGlyphs">E</text>
<text x="487.56" y="318.5" font-size="6.6" font-weight="bold" fill="#000" textLength="3.18" lengthAdjust="spacingAndGlyphs">-</text>
<text x="490.75" y="318.5" font-size="6.6" font-weight="bold" fill="#000" textLength="4.80" lengthAdjust="spacingAndGlyphs">F</text>
<text x="495.55" y="318.5" font-size="6.6" font-weight="bold" fill="#000" textLength="5.25" lengthAdjust="spacingAndGlyphs">e</text>
<text x="500.80" y="318.5" font-size="6.6" font-weight="bold" fill="#000" textLength="5.27" lengthAdjust="spacingAndGlyphs">3</text>
<text x="506.07" y="318.5" font-size="6.6" font-weight="bold" fill="#000" textLength="6.96" lengthAdjust="spacingAndGlyphs">O</text>
<text x="513.03" y="318.5" font-size="6.6" font-weight="bold" fill="#000" textLength="5.27" lengthAdjust="spacingAndGlyphs">4</text>
<line x1="450.8" y1="334.2" x2="468.1" y2="334.2" stroke="#9BBB59" stroke-width="1.4"/>
<text x="470.40" y="336.6" font-size="6.6" font-weight="bold" fill="#000" textLength="6.55" lengthAdjust="spacingAndGlyphs">G</text>
<text x="476.95" y="336.6" font-size="6.6" font-weight="bold" fill="#000" textLength="5.52" lengthAdjust="spacingAndGlyphs">C</text>
<text x="482.46" y="336.6" font-size="6.6" font-weight="bold" fill="#000" textLength="5.06" lengthAdjust="spacingAndGlyphs">E</text>
<text x="487.52" y="336.6" font-size="6.6" font-weight="bold" fill="#000" textLength="3.18" lengthAdjust="spacingAndGlyphs">-</text>
<text x="490.70" y="336.6" font-size="6.6" font-weight="bold" fill="#000" textLength="5.26" lengthAdjust="spacingAndGlyphs">2</text>
<text x="495.96" y="336.6" font-size="6.6" font-weight="bold" fill="#000" textLength="5.26" lengthAdjust="spacingAndGlyphs">9</text>
<text x="501.22" y="336.6" font-size="6.6" font-weight="bold" fill="#000" textLength="6.58" lengthAdjust="spacingAndGlyphs">H</text>
<text x="507.80" y="336.6" font-size="6.6" font-weight="bold" fill="#000" textLength="2.68" lengthAdjust="spacingAndGlyphs">,</text>
<text x="510.47" y="336.6" font-size="6.6" font-weight="bold" fill="#000" textLength="5.26" lengthAdjust="spacingAndGlyphs">3</text>
<text x="515.73" y="336.6" font-size="6.6" font-weight="bold" fill="#000" textLength="5.26" lengthAdjust="spacingAndGlyphs">1</text>
<text x="520.99" y="336.6" font-size="6.6" font-weight="bold" fill="#000" textLength="6.58" lengthAdjust="spacingAndGlyphs">H</text>
<text x="527.57" y="336.6" font-size="6.6" font-weight="bold" fill="#000" textLength="3.18" lengthAdjust="spacingAndGlyphs">-</text>
<text x="530.74" y="336.6" font-size="6.6" font-weight="bold" fill="#000" textLength="5.52" lengthAdjust="spacingAndGlyphs">P</text>
<text x="536.26" y="336.6" font-size="6.6" font-weight="bold" fill="#000" textLength="4.34" lengthAdjust="spacingAndGlyphs">c</text>
<line x1="450.8" y1="351.8" x2="468.1" y2="351.8" stroke="#8064A2" stroke-width="1.4"/>
<text x="470.40" y="354.2" font-size="6.6" font-weight="bold" fill="#000" textLength="6.48" lengthAdjust="spacingAndGlyphs">G</text>
<text x="476.88" y="354.2" font-size="6.6" font-weight="bold" fill="#000" textLength="5.46" lengthAdjust="spacingAndGlyphs">C</text>
<text x="482.35" y="354.2" font-size="6.6" font-weight="bold" fill="#000" textLength="5.01" lengthAdjust="spacingAndGlyphs">E</text>
<text x="487.35" y="354.2" font-size="6.6" font-weight="bold" fill="#000" textLength="3.15" lengthAdjust="spacingAndGlyphs">-</text>
<text x="490.50" y="354.2" font-size="6.6" font-weight="bold" fill="#000" textLength="8.95" lengthAdjust="spacingAndGlyphs">M</text>
<text x="499.45" y="354.2" font-size="6.6" font-weight="bold" fill="#000" textLength="9.29" lengthAdjust="spacingAndGlyphs">W</text>
<text x="508.74" y="354.2" font-size="6.6" font-weight="bold" fill="#000" textLength="5.46" lengthAdjust="spacingAndGlyphs">C</text>
<text x="514.20" y="354.2" font-size="6.6" font-weight="bold" fill="#000" textLength="6.68" lengthAdjust="spacingAndGlyphs">N</text>
<text x="520.88" y="354.2" font-size="6.6" font-weight="bold" fill="#000" textLength="5.02" lengthAdjust="spacingAndGlyphs">T</text>
<line x1="450.8" y1="370.2" x2="468.1" y2="370.2" stroke="#4BACC6" stroke-width="1.4"/>
<text x="470.40" y="372.6" font-size="6.6" font-weight="bold" fill="#000" textLength="6.59" lengthAdjust="spacingAndGlyphs">G</text>
<text x="476.99" y="372.6" font-size="6.6" font-weight="bold" fill="#000" textLength="5.56" lengthAdjust="spacingAndGlyphs">C</text>
<text x="482.55" y="372.6" font-size="6.6" font-weight="bold" fill="#000" textLength="5.09" lengthAdjust="spacingAndGlyphs">E</text>
<text x="487.65" y="372.6" font-size="6.6" font-weight="bold" fill="#000" textLength="3.20" lengthAdjust="spacingAndGlyphs">-</text>
<text x="490.85" y="372.6" font-size="6.6" font-weight="bold" fill="#000" textLength="9.10" lengthAdjust="spacingAndGlyphs">M</text>
<text x="499.95" y="372.6" font-size="6.6" font-weight="bold" fill="#000" textLength="9.45" lengthAdjust="spacingAndGlyphs">W</text>
<text x="509.40" y="372.6" font-size="6.6" font-weight="bold" fill="#000" textLength="5.56" lengthAdjust="spacingAndGlyphs">C</text>
<text x="514.96" y="372.6" font-size="6.6" font-weight="bold" fill="#000" textLength="6.80" lengthAdjust="spacingAndGlyphs">N</text>
<text x="521.75" y="372.6" font-size="6.6" font-weight="bold" fill="#000" textLength="5.10" lengthAdjust="spacingAndGlyphs">T</text>
<line x1="527.34" y1="373.70" x2="530.42" y2="367.56" stroke="#000" stroke-width="0.92"/>
<text x="530.90" y="372.6" font-size="6.6" font-weight="bold" fill="#000" textLength="4.82" lengthAdjust="spacingAndGlyphs">F</text>
<text x="535.73" y="372.6" font-size="6.6" font-weight="bold" fill="#000" textLength="5.28" lengthAdjust="spacingAndGlyphs">e</text>
<text x="541.00" y="372.6" font-size="6.6" font-weight="bold" fill="#000" textLength="5.30" lengthAdjust="spacingAndGlyphs">3</text>
<text x="546.30" y="372.6" font-size="6.6" font-weight="bold" fill="#000" textLength="6.99" lengthAdjust="spacingAndGlyphs">O</text>
<text x="553.29" y="372.6" font-size="6.6" font-weight="bold" fill="#000" textLength="5.30" lengthAdjust="spacingAndGlyphs">4</text>
<line x1="559.08" y1="373.70" x2="562.15" y2="367.56" stroke="#000" stroke-width="0.92"/>
<text x="562.64" y="372.6" font-size="6.6" font-weight="bold" fill="#000" textLength="5.30" lengthAdjust="spacingAndGlyphs">2</text>
<text x="567.94" y="372.6" font-size="6.6" font-weight="bold" fill="#000" textLength="5.30" lengthAdjust="spacingAndGlyphs">9</text>
<text x="573.23" y="372.6" font-size="6.6" font-weight="bold" fill="#000" textLength="6.62" lengthAdjust="spacingAndGlyphs">H</text>
<text x="579.86" y="372.6" font-size="6.6" font-weight="bold" fill="#000" textLength="2.69" lengthAdjust="spacingAndGlyphs">,</text>
<text x="582.55" y="372.6" font-size="6.6" font-weight="bold" fill="#000" textLength="5.30" lengthAdjust="spacingAndGlyphs">3</text>
<text x="587.85" y="372.6" font-size="6.6" font-weight="bold" fill="#000" textLength="5.30" lengthAdjust="spacingAndGlyphs">1</text>
<text x="593.15" y="372.6" font-size="6.6" font-weight="bold" fill="#000" textLength="6.62" lengthAdjust="spacingAndGlyphs">H</text>
<text x="599.77" y="372.6" font-size="6.6" font-weight="bold" fill="#000" textLength="3.20" lengthAdjust="spacingAndGlyphs">-</text>
<text x="602.97" y="372.6" font-size="6.6" font-weight="bold" fill="#000" textLength="5.56" lengthAdjust="spacingAndGlyphs">P</text>
<text x="608.53" y="372.6" font-size="6.6" font-weight="bold" fill="#000" textLength="4.37" lengthAdjust="spacingAndGlyphs">c</text>
<path d="M405.7,481.5 C406.8,482.5 409.9,486.0 412.3,487.7 C414.8,489.4 415.6,490.8 420.4,491.7 C425.2,492.6 430.7,493.0 440.9,493.4 C451.1,493.8 472.2,494.2 481.7,493.8 C491.2,493.4 494.0,492.2 498.1,490.7 C502.2,489.2 503.9,486.1 506.3,484.6 C508.7,483.1 509.7,481.8 512.4,481.5 C515.1,481.2 518.0,481.9 522.6,482.6 C527.2,483.3 527.1,484.7 540.0,485.6 C552.9,486.5 577.5,487.7 600.0,488.0 C622.5,488.3 662.2,487.6 674.7,487.5" fill="none" stroke="#C0504D" stroke-width="1.5" stroke-linejoin="round" stroke-linecap="round" clip-path="url(#cc)"/>
<path d="M674.7,489.0 C662.2,489.5 629.1,491.2 600.0,492.0 C570.9,492.8 532.4,493.8 500.0,494.0 C467.6,494.2 421.4,493.6 405.7,493.5" fill="none" stroke="#C0504D" stroke-width="1.3" stroke-linejoin="round" stroke-linecap="round" clip-path="url(#cc)"/>
<path d="M405.7,493.0 C421.4,493.1 480.9,494.2 500.0,493.5 C519.0,492.8 510.0,489.2 520.0,488.5 C530.0,487.8 534.2,489.5 560.0,489.0 C585.8,488.5 655.6,486.0 674.7,485.4" fill="none" stroke="#9BBB59" stroke-width="1.5" stroke-linejoin="round" stroke-linecap="round" clip-path="url(#cc)"/>
<path d="M674.7,486.5 C662.2,487.1 623.3,489.3 600.0,490.0 C576.7,490.7 560.0,490.2 535.0,490.7 C510.0,491.2 471.6,492.5 450.0,493.0 C428.4,493.5 413.1,493.7 405.7,493.8" fill="none" stroke="#9BBB59" stroke-width="1.3" stroke-linejoin="round" stroke-linecap="round" clip-path="url(#cc)"/>
<path d="M405.7,492.5 C419.8,492.6 473.4,493.4 490.0,492.8 C506.6,492.2 500.0,490.2 505.0,489.0 C510.0,487.8 515.0,486.3 520.0,485.5 C525.0,484.7 521.7,484.3 535.0,484.3 C548.3,484.3 576.7,485.0 600.0,485.5 C623.3,486.0 662.2,487.2 674.7,487.5" fill="none" stroke="#4F81BD" stroke-width="1.5" stroke-linejoin="round" stroke-linecap="round" clip-path="url(#cc)"/>
<path d="M422.1,290.0 C422.5,295.1 423.6,310.5 424.5,320.7 C425.4,330.9 426.7,341.8 427.6,351.3 C428.6,360.8 429.4,370.2 430.2,377.5 C431.0,384.8 431.7,389.9 432.4,395.0 C433.1,400.1 433.8,404.8 434.4,408.2 C435.0,411.6 435.2,412.5 435.8,415.5 C436.4,418.5 437.0,422.4 437.9,426.0 C438.8,429.6 440.1,433.4 441.1,436.9 C442.1,440.4 442.8,443.5 443.8,446.8 C444.8,450.1 446.1,453.5 447.1,456.6 C448.1,459.7 449.0,462.1 449.8,465.4 C450.6,468.7 451.4,472.8 452.0,476.3 C452.6,479.8 453.2,482.6 453.7,486.2 C454.2,489.8 454.3,492.9 455.2,497.9 C456.1,502.9 457.9,511.7 459.3,516.3 C460.7,520.9 462.2,523.6 463.4,525.5 C464.6,527.4 465.2,528.0 466.4,527.5 C467.6,527.0 469.1,525.3 470.5,522.4 C471.9,519.5 473.2,514.2 474.6,510.1 C476.0,506.0 477.2,502.3 478.7,497.9 C480.2,493.5 481.9,489.7 483.8,483.6 C485.7,477.5 487.8,469.3 489.9,461.1 C491.9,452.9 494.2,441.7 496.1,434.5 C498.0,427.3 499.9,423.0 501.2,418.0 C502.5,413.0 503.0,408.4 504.2,404.4 C505.4,400.4 506.9,394.9 508.3,394.2 C509.7,393.5 511.0,398.0 512.4,400.4 C513.8,402.8 514.8,406.5 516.5,408.5 C518.2,410.5 520.2,410.8 522.6,412.6 C525.0,414.4 528.7,417.2 530.8,419.5 C532.9,421.8 532.5,423.8 535.0,426.1 C537.5,428.4 542.1,431.2 545.6,433.5 C549.1,435.8 552.7,438.1 556.2,439.9 C559.7,441.7 563.3,443.1 566.8,444.1 C570.3,445.2 573.8,446.1 577.3,446.2 C580.8,446.3 584.4,445.2 587.9,444.5 C591.4,443.8 595.0,442.5 598.5,442.0 C602.0,441.5 605.6,441.4 609.1,441.5 C612.6,441.6 616.2,442.4 619.7,442.4 C623.2,442.4 626.8,442.4 630.3,441.5 C633.8,440.6 637.3,438.7 640.8,436.7 C644.3,434.7 647.9,432.1 651.4,429.3 C654.9,426.5 658.8,422.0 662.0,419.7 C665.2,417.4 668.4,416.7 670.5,415.5 C672.6,414.3 674.0,412.8 674.7,412.3" fill="none" stroke="#8064A2" stroke-width="1.9" stroke-linejoin="round" stroke-linecap="round" clip-path="url(#cc)"/>
<path d="M674.7,412.3 C674.7,414.1 675.4,418.3 674.7,422.9 C674.0,427.5 672.6,434.9 670.5,439.9 C668.4,444.8 665.2,449.1 662.0,452.6 C658.8,456.1 654.9,458.7 651.4,461.0 C647.9,463.3 645.0,465.1 640.8,466.3 C636.6,467.5 631.3,467.9 626.0,468.4 C620.7,468.9 613.7,469.5 609.1,469.5 C604.5,469.5 603.8,468.0 598.5,468.4 C593.2,468.8 584.3,470.4 577.3,471.6 C570.2,472.8 562.4,474.3 556.2,475.8 C550.0,477.3 544.2,479.6 540.0,480.5 C535.8,481.4 533.7,481.3 530.8,481.5 C527.9,481.7 525.3,481.8 522.6,481.5 C519.9,481.2 516.9,478.8 514.5,479.5 C512.1,480.2 510.4,482.2 508.3,485.6 C506.2,489.0 504.2,495.1 502.2,499.9 C500.2,504.7 498.0,511.0 496.1,514.2 C494.2,517.4 492.6,520.3 490.9,519.3 C489.2,518.3 487.1,512.0 485.8,508.1 C484.5,504.2 484.2,499.2 482.8,495.8 C481.4,492.4 479.6,490.6 477.7,487.7 C475.8,484.8 472.8,480.6 471.2,478.5 C469.6,476.4 468.9,476.4 467.9,475.2 C466.9,474.0 466.0,473.2 465.1,471.4 C464.2,469.6 463.3,466.4 462.4,464.3 C461.5,462.2 460.6,461.6 459.7,458.8 C458.8,456.1 457.7,450.9 456.9,447.8 C456.1,444.7 455.4,442.9 454.7,440.2 C454.0,437.5 453.3,433.6 452.6,431.4 C451.9,429.2 451.2,428.1 450.4,427.0 C449.6,425.9 448.2,425.3 447.6,425.1 C447.0,424.9 446.9,424.6 446.5,426.0 C446.1,427.4 445.5,430.7 444.9,433.6 C444.3,436.5 443.4,440.2 442.7,443.5 C442.0,446.8 441.2,450.2 440.5,453.3 C439.8,456.4 439.0,459.7 438.3,462.1 C437.6,464.5 437.0,465.6 436.1,467.6 C435.2,469.6 433.9,472.6 432.8,474.1 C431.7,475.7 430.7,476.1 429.6,476.9 C428.5,477.7 427.6,478.5 426.3,479.1 C425.0,479.7 423.4,480.8 421.9,480.7 C420.4,480.6 418.8,479.3 417.5,478.5 C416.2,477.7 415.3,476.5 414.2,475.8 C413.1,475.1 411.8,474.8 410.9,474.1 C410.0,473.5 409.7,472.4 408.8,471.9 C407.9,471.4 406.2,471.4 405.7,471.3" fill="none" stroke="#8064A2" stroke-width="1.9" stroke-linejoin="round" stroke-linecap="round" clip-path="url(#cc)"/>
<path d="M406.7,290.0 C406.9,296.8 407.5,319.3 407.8,331.0 C408.1,342.7 408.1,352.2 408.3,360.0 C408.5,367.8 408.8,371.7 409.2,377.5 C409.6,383.3 410.1,389.9 410.5,395.0 C410.9,400.1 411.5,404.9 411.8,408.2 C412.1,411.5 411.9,412.0 412.3,415.0 C412.7,418.0 413.5,422.4 414.2,426.0 C414.9,429.6 415.6,433.3 416.4,436.9 C417.2,440.5 418.2,444.1 419.2,447.8 C420.2,451.5 421.2,455.2 422.4,458.8 C423.6,462.4 425.0,466.6 426.3,469.7 C427.6,472.8 428.7,475.0 430.1,477.4 C431.6,479.8 433.1,482.2 435.0,484.0 C436.9,485.8 438.9,487.1 441.6,488.4 C444.3,489.7 447.8,491.0 451.1,491.7 C454.4,492.4 457.2,492.8 461.3,492.8 C465.4,492.8 471.9,492.4 475.6,491.7 C479.4,491.0 481.4,491.1 483.8,488.7 C486.2,486.3 488.2,482.7 489.9,477.4 C491.6,472.1 492.6,464.8 494.0,457.0 C495.4,449.2 496.9,438.2 498.1,430.4 C499.3,422.6 500.4,417.7 501.2,410.0 C502.0,402.3 502.4,389.9 503.2,384.0 C504.0,378.1 505.0,374.8 505.9,374.8 C506.8,374.8 507.4,379.1 508.3,384.0 C509.2,388.9 510.5,399.2 511.4,404.4 C512.2,409.6 512.5,411.4 513.4,415.0 C514.2,418.6 515.0,422.7 516.5,426.3 C518.0,429.9 520.2,433.9 522.6,436.6 C525.0,439.3 528.7,441.3 530.8,442.7 C532.9,444.1 532.5,443.6 535.0,445.1 C537.5,446.6 542.1,449.9 545.6,451.5 C549.1,453.1 552.7,453.8 556.2,454.7 C559.7,455.6 563.3,456.4 566.8,456.8 C570.3,457.2 573.8,457.5 577.3,456.8 C580.8,456.1 584.4,454.4 587.9,452.6 C591.4,450.8 595.3,448.3 598.5,446.2 C601.7,444.1 604.2,441.7 607.0,439.9 C609.8,438.1 612.9,436.1 615.4,435.2 C617.9,434.3 619.7,434.2 621.8,434.6 C623.9,435.0 626.0,436.6 628.1,437.7 C630.2,438.8 632.0,440.5 634.5,440.9 C637.0,441.3 640.2,440.9 643.0,439.9 C645.8,438.8 648.2,436.7 651.4,434.6 C654.6,432.5 658.8,429.0 662.0,427.2 C665.2,425.4 668.4,424.2 670.5,424.0 C672.6,423.8 674.0,425.8 674.7,426.1" fill="none" stroke="#4BACC6" stroke-width="1.9" stroke-linejoin="round" stroke-linecap="round" clip-path="url(#cc)"/>
<path d="M674.7,426.1 C674.5,427.3 674.8,430.1 673.7,433.5 C672.7,436.9 670.7,442.7 668.4,446.2 C666.1,449.7 663.1,452.2 659.9,454.7 C656.7,457.2 653.2,459.1 649.3,461.0 C645.4,462.9 641.5,464.9 636.6,466.3 C631.7,467.7 626.1,468.7 619.7,469.5 C613.4,470.3 605.6,470.5 598.5,471.2 C591.4,471.9 584.3,472.8 577.3,473.7 C570.2,474.6 562.4,475.9 556.2,476.9 C550.0,477.9 544.9,478.4 540.0,479.5 C535.1,480.6 530.3,483.3 526.7,483.6 C523.1,483.9 521.0,481.7 518.5,481.5 C516.0,481.3 513.4,481.2 511.4,482.6 C509.4,484.0 507.8,486.5 506.3,489.7 C504.8,492.9 503.6,499.3 502.2,502.0 C500.8,504.7 500.8,506.3 498.1,506.1 C495.4,505.9 489.2,502.3 485.8,500.9 C482.4,499.5 481.1,498.6 477.7,497.9 C474.3,497.2 469.5,496.7 465.4,496.9 C461.3,497.1 457.2,498.7 453.1,498.9 C449.0,499.1 444.6,498.4 440.9,497.9 C437.2,497.4 433.8,497.2 430.7,495.8 C427.6,494.4 425.2,492.4 422.5,489.7 C419.8,487.0 417.1,482.6 414.3,479.5 C411.5,476.4 407.1,472.7 405.7,471.3" fill="none" stroke="#4BACC6" stroke-width="1.9" stroke-linejoin="round" stroke-linecap="round" clip-path="url(#cc)"/>
<clipPath id="cd"><rect x="46" y="591" width="277" height="243"/></clipPath>
<line x1="46.4" y1="591.5" x2="46.4" y2="833.2" stroke="#D0D0D0" stroke-width="1.3"/>
<line x1="46.4" y1="833.2" x2="320.8" y2="833.2" stroke="#D0D0D0" stroke-width="1.3"/>
<text x="22.64" y="616.0" font-size="7.2" font-weight="bold" fill="#000" textLength="5.78" lengthAdjust="spacingAndGlyphs">2</text>
<text x="28.42" y="616.0" font-size="7.2" font-weight="bold" fill="#000" textLength="5.78" lengthAdjust="spacingAndGlyphs">7</text>
<text x="22.64" y="652.6" font-size="7.2" font-weight="bold" fill="#000" textLength="5.78" lengthAdjust="spacingAndGlyphs">2</text>
<text x="28.42" y="652.6" font-size="7.2" font-weight="bold" fill="#000" textLength="5.78" lengthAdjust="spacingAndGlyphs">2</text>
<text x="22.64" y="689.3" font-size="7.2" font-weight="bold" fill="#000" textLength="5.78" lengthAdjust="spacingAndGlyphs">1</text>
<text x="28.42" y="689.3" font-size="7.2" font-weight="bold" fill="#000" textLength="5.78" lengthAdjust="spacingAndGlyphs">7</text>
<text x="22.64" y="725.9" font-size="7.2" font-weight="bold" fill="#000" textLength="5.78" lengthAdjust="spacingAndGlyphs">1</text>
<text x="28.42" y="725.9" font-size="7.2" font-weight="bold" fill="#000" textLength="5.78" lengthAdjust="spacingAndGlyphs">2</text>
<text x="28.42" y="762.6" font-size="7.2" font-weight="bold" fill="#000" textLength="5.78" lengthAdjust="spacingAndGlyphs">7</text>
<text x="28.42" y="799.2" font-size="7.2" font-weight="bold" fill="#000" textLength="5.78" lengthAdjust="spacingAndGlyphs">2</text>
<text x="24.93" y="835.9" font-size="7.2" font-weight="bold" fill="#000" textLength="3.49" lengthAdjust="spacingAndGlyphs">-</text>
<text x="28.42" y="835.9" font-size="7.2" font-weight="bold" fill="#000" textLength="5.78" lengthAdjust="spacingAndGlyphs">3</text>
<text x="36.65" y="847.5" font-size="7.2" font-weight="bold" fill="#000" textLength="3.80" lengthAdjust="spacingAndGlyphs">-</text>
<text x="40.45" y="847.5" font-size="7.2" font-weight="bold" fill="#000" textLength="6.28" lengthAdjust="spacingAndGlyphs">0</text>
<text x="46.73" y="847.5" font-size="7.2" font-weight="bold" fill="#000" textLength="3.13" lengthAdjust="spacingAndGlyphs">.</text>
<text x="49.86" y="847.5" font-size="7.2" font-weight="bold" fill="#000" textLength="6.28" lengthAdjust="spacingAndGlyphs">2</text>
<text x="98.06" y="847.5" font-size="7.2" font-weight="bold" fill="#000" textLength="6.28" lengthAdjust="spacingAndGlyphs">0</text>
<text x="148.15" y="847.5" font-size="7.2" font-weight="bold" fill="#000" textLength="6.28" lengthAdjust="spacingAndGlyphs">0</text>
<text x="154.43" y="847.5" font-size="7.2" font-weight="bold" fill="#000" textLength="3.13" lengthAdjust="spacingAndGlyphs">.</text>
<text x="157.57" y="847.5" font-size="7.2" font-weight="bold" fill="#000" textLength="6.28" lengthAdjust="spacingAndGlyphs">2</text>
<text x="202.95" y="847.5" font-size="7.2" font-weight="bold" fill="#000" textLength="6.28" lengthAdjust="spacingAndGlyphs">0</text>
<text x="209.23" y="847.5" font-size="7.2" font-weight="bold" fill="#000" textLength="3.13" lengthAdjust="spacingAndGlyphs">.</text>
<text x="212.37" y="847.5" font-size="7.2" font-weight="bold" fill="#000" textLength="6.28" lengthAdjust="spacingAndGlyphs">4</text>
<text x="257.75" y="847.5" font-size="7.2" font-weight="bold" fill="#000" textLength="6.28" lengthAdjust="spacingAndGlyphs">0</text>
<text x="264.03" y="847.5" font-size="7.2" font-weight="bold" fill="#000" textLength="3.13" lengthAdjust="spacingAndGlyphs">.</text>
<text x="267.17" y="847.5" font-size="7.2" font-weight="bold" fill="#000" textLength="6.28" lengthAdjust="spacingAndGlyphs">6</text>
<text x="312.55" y="847.5" font-size="7.2" font-weight="bold" fill="#000" textLength="6.28" lengthAdjust="spacingAndGlyphs">0</text>
<text x="318.83" y="847.5" font-size="7.2" font-weight="bold" fill="#000" textLength="3.13" lengthAdjust="spacingAndGlyphs">.</text>
<text x="321.97" y="847.5" font-size="7.2" font-weight="bold" fill="#000" textLength="6.28" lengthAdjust="spacingAndGlyphs">8</text>
<text x="98.20" y="865.0" font-size="7.5" font-weight="bold" fill="#000" textLength="5.92" lengthAdjust="spacingAndGlyphs">E</text>
<line x1="104.68" y1="866.27" x2="108.26" y2="859.30" stroke="#000" stroke-width="1.05"/>
<text x="108.82" y="865.0" font-size="7.5" font-weight="bold" fill="#000" textLength="7.25" lengthAdjust="spacingAndGlyphs">V</text>
<text x="118.83" y="865.0" font-size="7.5" font-weight="bold" fill="#000" textLength="3.78" lengthAdjust="spacingAndGlyphs">(</text>
<text x="122.61" y="865.0" font-size="7.5" font-weight="bold" fill="#000" textLength="5.76" lengthAdjust="spacingAndGlyphs">v</text>
<text x="128.37" y="865.0" font-size="7.5" font-weight="bold" fill="#000" textLength="4.86" lengthAdjust="spacingAndGlyphs">s</text>
<text x="135.98" y="865.0" font-size="7.5" font-weight="bold" fill="#000" textLength="7.36" lengthAdjust="spacingAndGlyphs">A</text>
<text x="143.34" y="865.0" font-size="7.5" font-weight="bold" fill="#000" textLength="5.74" lengthAdjust="spacingAndGlyphs">g</text>
<line x1="149.64" y1="866.27" x2="153.22" y2="859.30" stroke="#000" stroke-width="1.05"/>
<text x="153.78" y="865.0" font-size="7.5" font-weight="bold" fill="#000" textLength="7.36" lengthAdjust="spacingAndGlyphs">A</text>
<text x="161.15" y="865.0" font-size="7.5" font-weight="bold" fill="#000" textLength="5.74" lengthAdjust="spacingAndGlyphs">g</text>
<text x="166.89" y="865.0" font-size="7.5" font-weight="bold" fill="#000" textLength="6.46" lengthAdjust="spacingAndGlyphs">C</text>
<text x="173.35" y="865.0" font-size="7.5" font-weight="bold" fill="#000" textLength="2.99" lengthAdjust="spacingAndGlyphs">l</text>
<text x="176.34" y="865.0" font-size="7.5" font-weight="bold" fill="#000" textLength="3.13" lengthAdjust="spacingAndGlyphs">,</text>
<text x="182.22" y="865.0" font-size="7.5" font-weight="bold" fill="#000" textLength="5.72" lengthAdjust="spacingAndGlyphs">S</text>
<text x="187.94" y="865.0" font-size="7.5" font-weight="bold" fill="#000" textLength="6.00" lengthAdjust="spacingAndGlyphs">a</text>
<text x="193.94" y="865.0" font-size="7.5" font-weight="bold" fill="#000" textLength="4.21" lengthAdjust="spacingAndGlyphs">t</text>
<text x="198.15" y="865.0" font-size="7.5" font-weight="bold" fill="#000" textLength="2.75" lengthAdjust="spacingAndGlyphs">'</text>
<text x="200.90" y="865.0" font-size="7.5" font-weight="bold" fill="#000" textLength="6.53" lengthAdjust="spacingAndGlyphs">d</text>
<text x="210.17" y="865.0" font-size="7.5" font-weight="bold" fill="#000" textLength="6.60" lengthAdjust="spacingAndGlyphs">K</text>
<text x="216.77" y="865.0" font-size="7.5" font-weight="bold" fill="#000" textLength="6.46" lengthAdjust="spacingAndGlyphs">C</text>
<text x="223.23" y="865.0" font-size="7.5" font-weight="bold" fill="#000" textLength="2.99" lengthAdjust="spacingAndGlyphs">l</text>
<text x="226.22" y="865.0" font-size="7.5" font-weight="bold" fill="#000" textLength="3.78" lengthAdjust="spacingAndGlyphs">)</text>
<text transform="translate(10.80,721.86) rotate(-90) scale(0.895,1.578)" font-size="7.0" font-weight="bold" fill="#000" style="stroke-width:0.12px">A</text>
<text transform="translate(10.80,726.92) rotate(-90) scale(0.987,1.578)" font-size="7.0" font-weight="bold" fill="#000" style="stroke-width:0.12px">μ</text>
<text transform="translate(12.30,730.75) rotate(-90) scale(1.693,2.033)" font-size="7.0" font-weight="bold" fill="#000" style="stroke-width:0.12px">/</text>
<text transform="translate(10.80,733.11) rotate(-90) scale(1.113,1.578)" font-size="7.0" font-weight="bold" fill="#000" style="stroke-width:0.12px">I</text>
<text x="123.53" y="600.20" font-size="12.5" font-weight="bold" fill="#000" textLength="5.88" lengthAdjust="spacingAndGlyphs" style="stroke-width:0.05px">(</text>
<text x="131.19" y="600.20" font-size="12.5" font-weight="bold" fill="#000" textLength="12.12" lengthAdjust="spacingAndGlyphs" style="stroke-width:0.05px">d</text>
<text x="144.88" y="600.20" font-size="12.5" font-weight="bold" fill="#000" textLength="5.77" lengthAdjust="spacingAndGlyphs" style="stroke-width:0.05px">)</text>
<line x1="173.8" y1="596.3" x2="191.2" y2="596.3" stroke="#4F81BD" stroke-width="1.4"/>
<text x="192.70" y="598.7" font-size="6.8" font-weight="bold" fill="#000" textLength="6.58" lengthAdjust="spacingAndGlyphs">G</text>
<text x="199.28" y="598.7" font-size="6.8" font-weight="bold" fill="#000" textLength="5.55" lengthAdjust="spacingAndGlyphs">C</text>
<text x="204.83" y="598.7" font-size="6.8" font-weight="bold" fill="#000" textLength="5.08" lengthAdjust="spacingAndGlyphs">E</text>
<text x="209.91" y="598.7" font-size="6.8" font-weight="bold" fill="#000" textLength="3.19" lengthAdjust="spacingAndGlyphs">-</text>
<text x="213.10" y="598.7" font-size="6.8" font-weight="bold" fill="#000" textLength="5.83" lengthAdjust="spacingAndGlyphs">B</text>
<text x="218.93" y="598.7" font-size="6.8" font-weight="bold" fill="#000" textLength="6.32" lengthAdjust="spacingAndGlyphs">A</text>
<text x="225.25" y="598.7" font-size="6.8" font-weight="bold" fill="#000" textLength="5.87" lengthAdjust="spacingAndGlyphs">R</text>
<text x="231.12" y="598.7" font-size="6.8" font-weight="bold" fill="#000" textLength="5.08" lengthAdjust="spacingAndGlyphs">E</text>
<line x1="173.8" y1="615.0" x2="191.2" y2="615.0" stroke="#C0504D" stroke-width="1.4"/>
<text x="192.70" y="617.4" font-size="6.8" font-weight="bold" fill="#000" textLength="6.62" lengthAdjust="spacingAndGlyphs">G</text>
<text x="199.32" y="617.4" font-size="6.8" font-weight="bold" fill="#000" textLength="5.58" lengthAdjust="spacingAndGlyphs">C</text>
<text x="204.90" y="617.4" font-size="6.8" font-weight="bold" fill="#000" textLength="5.11" lengthAdjust="spacingAndGlyphs">E</text>
<text x="210.01" y="617.4" font-size="6.8" font-weight="bold" fill="#000" textLength="3.21" lengthAdjust="spacingAndGlyphs">-</text>
<text x="213.22" y="617.4" font-size="6.8" font-weight="bold" fill="#000" textLength="5.12" lengthAdjust="spacingAndGlyphs">Z</text>
<text x="218.35" y="617.4" font-size="6.8" font-weight="bold" fill="#000" textLength="5.64" lengthAdjust="spacingAndGlyphs">n</text>
<text x="223.98" y="617.4" font-size="6.8" font-weight="bold" fill="#000" textLength="7.02" lengthAdjust="spacingAndGlyphs">O</text>
<line x1="173.8" y1="633.4" x2="191.2" y2="633.4" stroke="#9BBB59" stroke-width="1.4"/>
<text x="192.70" y="635.8" font-size="6.8" font-weight="bold" fill="#000" textLength="6.72" lengthAdjust="spacingAndGlyphs">G</text>
<text x="199.42" y="635.8" font-size="6.8" font-weight="bold" fill="#000" textLength="5.66" lengthAdjust="spacingAndGlyphs">C</text>
<text x="205.08" y="635.8" font-size="6.8" font-weight="bold" fill="#000" textLength="5.19" lengthAdjust="spacingAndGlyphs">E</text>
<text x="210.27" y="635.8" font-size="6.8" font-weight="bold" fill="#000" textLength="3.26" lengthAdjust="spacingAndGlyphs">-</text>
<text x="213.53" y="635.8" font-size="6.8" font-weight="bold" fill="#000" textLength="5.40" lengthAdjust="spacingAndGlyphs">2</text>
<text x="218.92" y="635.8" font-size="6.8" font-weight="bold" fill="#000" textLength="2.75" lengthAdjust="spacingAndGlyphs">,</text>
<text x="221.67" y="635.8" font-size="6.8" font-weight="bold" fill="#000" textLength="5.40" lengthAdjust="spacingAndGlyphs">3</text>
<text x="227.06" y="635.8" font-size="6.8" font-weight="bold" fill="#000" textLength="3.26" lengthAdjust="spacingAndGlyphs">-</text>
<text x="230.32" y="635.8" font-size="6.8" font-weight="bold" fill="#000" textLength="6.92" lengthAdjust="spacingAndGlyphs">N</text>
<text x="237.25" y="635.8" font-size="6.8" font-weight="bold" fill="#000" textLength="4.45" lengthAdjust="spacingAndGlyphs">c</text>
<line x1="173.8" y1="652.4" x2="191.2" y2="652.4" stroke="#8064A2" stroke-width="1.4"/>
<text x="192.70" y="654.8" font-size="6.8" font-weight="bold" fill="#000" textLength="6.59" lengthAdjust="spacingAndGlyphs">G</text>
<text x="199.29" y="654.8" font-size="6.8" font-weight="bold" fill="#000" textLength="5.55" lengthAdjust="spacingAndGlyphs">C</text>
<text x="204.84" y="654.8" font-size="6.8" font-weight="bold" fill="#000" textLength="5.09" lengthAdjust="spacingAndGlyphs">E</text>
<text x="209.93" y="654.8" font-size="6.8" font-weight="bold" fill="#000" textLength="3.20" lengthAdjust="spacingAndGlyphs">-</text>
<text x="213.12" y="654.8" font-size="6.8" font-weight="bold" fill="#000" textLength="9.10" lengthAdjust="spacingAndGlyphs">M</text>
<text x="222.22" y="654.8" font-size="6.8" font-weight="bold" fill="#000" textLength="9.44" lengthAdjust="spacingAndGlyphs">W</text>
<text x="231.66" y="654.8" font-size="6.8" font-weight="bold" fill="#000" textLength="5.55" lengthAdjust="spacingAndGlyphs">C</text>
<text x="237.21" y="654.8" font-size="6.8" font-weight="bold" fill="#000" textLength="6.79" lengthAdjust="spacingAndGlyphs">N</text>
<text x="244.00" y="654.8" font-size="6.8" font-weight="bold" fill="#000" textLength="5.10" lengthAdjust="spacingAndGlyphs">T</text>
<line x1="173.8" y1="671.8" x2="191.2" y2="671.8" stroke="#4BACC6" stroke-width="1.4"/>
<text x="192.70" y="674.2" font-size="6.8" font-weight="bold" fill="#000" textLength="6.71" lengthAdjust="spacingAndGlyphs">G</text>
<text x="199.41" y="674.2" font-size="6.8" font-weight="bold" fill="#000" textLength="5.65" lengthAdjust="spacingAndGlyphs">C</text>
<text x="205.06" y="674.2" font-size="6.8" font-weight="bold" fill="#000" textLength="5.18" lengthAdjust="spacingAndGlyphs">E</text>
<text x="210.24" y="674.2" font-size="6.8" font-weight="bold" fill="#000" textLength="3.25" lengthAdjust="spacingAndGlyphs">-</text>
<text x="213.50" y="674.2" font-size="6.8" font-weight="bold" fill="#000" textLength="9.26" lengthAdjust="spacingAndGlyphs">M</text>
<text x="222.76" y="674.2" font-size="6.8" font-weight="bold" fill="#000" textLength="9.61" lengthAdjust="spacingAndGlyphs">W</text>
<text x="232.36" y="674.2" font-size="6.8" font-weight="bold" fill="#000" textLength="5.65" lengthAdjust="spacingAndGlyphs">C</text>
<text x="238.02" y="674.2" font-size="6.8" font-weight="bold" fill="#000" textLength="6.91" lengthAdjust="spacingAndGlyphs">N</text>
<text x="244.93" y="674.2" font-size="6.8" font-weight="bold" fill="#000" textLength="5.19" lengthAdjust="spacingAndGlyphs">T</text>
<line x1="250.62" y1="675.40" x2="253.75" y2="669.08" stroke="#000" stroke-width="0.95"/>
<text x="254.24" y="674.2" font-size="6.8" font-weight="bold" fill="#000" textLength="5.19" lengthAdjust="spacingAndGlyphs">Z</text>
<text x="259.43" y="674.2" font-size="6.8" font-weight="bold" fill="#000" textLength="5.71" lengthAdjust="spacingAndGlyphs">n</text>
<text x="265.14" y="674.2" font-size="6.8" font-weight="bold" fill="#000" textLength="7.11" lengthAdjust="spacingAndGlyphs">O</text>
<line x1="272.75" y1="675.40" x2="275.88" y2="669.08" stroke="#000" stroke-width="0.95"/>
<text x="276.37" y="674.2" font-size="6.8" font-weight="bold" fill="#000" textLength="5.39" lengthAdjust="spacingAndGlyphs">2</text>
<text x="281.76" y="674.2" font-size="6.8" font-weight="bold" fill="#000" textLength="2.74" lengthAdjust="spacingAndGlyphs">,</text>
<text x="284.50" y="674.2" font-size="6.8" font-weight="bold" fill="#000" textLength="5.39" lengthAdjust="spacingAndGlyphs">3</text>
<text x="289.89" y="674.2" font-size="6.8" font-weight="bold" fill="#000" textLength="3.25" lengthAdjust="spacingAndGlyphs">-</text>
<text x="293.14" y="674.2" font-size="6.8" font-weight="bold" fill="#000" textLength="6.91" lengthAdjust="spacingAndGlyphs">N</text>
<text x="300.06" y="674.2" font-size="6.8" font-weight="bold" fill="#000" textLength="4.44" lengthAdjust="spacingAndGlyphs">c</text>
<path d="M46.4,801.9 C48.0,802.8 51.8,805.8 56.1,807.5 C60.4,809.2 66.8,810.9 72.2,812.3 C77.6,813.6 82.9,815.3 88.3,815.6 C93.7,815.9 99.5,815.7 104.4,814.0 C109.3,812.3 114.1,806.8 117.5,805.5 C120.9,804.2 122.1,806.3 125.0,806.5 C127.9,806.7 132.0,807.6 135.0,806.7 C138.0,805.8 140.9,802.8 143.2,800.9 C145.5,799.0 147.2,796.7 149.0,795.6 C150.8,794.5 151.8,794.5 153.7,794.5 C155.6,794.5 158.0,794.9 160.7,795.6 C163.4,796.3 166.9,797.7 170.1,798.5 C173.3,799.3 175.0,800.0 180.0,800.3 C185.0,800.6 186.2,800.3 200.0,800.5 C213.8,800.7 248.5,802.8 262.6,801.7 C276.7,800.6 277.2,796.2 284.5,794.0 C291.8,791.8 300.5,789.9 306.4,788.5 C312.3,787.1 317.7,786.2 320.0,785.7" fill="none" stroke="#9BBB59" stroke-width="1.5" stroke-linejoin="round" stroke-linecap="round" clip-path="url(#cd)"/>
<path d="M320.0,785.7 C317.7,787.3 310.7,791.7 306.4,795.1 C302.1,798.5 303.7,804.2 294.3,806.0 C284.9,807.8 265.7,805.8 250.0,806.0 C234.3,806.2 216.7,807.1 200.0,807.5 C183.3,807.9 166.7,808.1 150.0,808.5 C133.3,808.9 117.3,809.4 100.0,810.0 C82.7,810.6 55.3,811.9 46.4,812.3" fill="none" stroke="#9BBB59" stroke-width="1.3" stroke-linejoin="round" stroke-linecap="round" clip-path="url(#cd)"/>
<path d="M46.4,809.1 C55.3,809.3 78.6,810.5 100.0,810.5 C121.4,810.5 155.2,809.9 175.0,809.3 C194.8,808.7 194.6,807.6 218.8,807.1 C243.1,806.6 303.6,806.2 320.5,806.0" fill="none" stroke="#C0504D" stroke-width="1.5" stroke-linejoin="round" stroke-linecap="round" clip-path="url(#cd)"/>
<path d="M46.4,811.0 C55.3,810.9 84.4,810.7 100.0,810.5 C115.6,810.3 130.0,810.8 140.0,810.0 C150.0,809.2 153.3,807.6 160.0,806.0 C166.7,804.4 173.8,802.0 180.0,800.5 C186.2,799.0 190.4,797.6 196.9,797.3 C203.4,796.9 207.9,797.8 218.8,798.4 C229.8,799.0 245.7,800.0 262.6,800.6 C279.6,801.2 310.9,801.9 320.5,802.1" fill="none" stroke="#4F81BD" stroke-width="1.5" stroke-linejoin="round" stroke-linecap="round" clip-path="url(#cd)"/>
<path d="M47.3,590.0 C47.5,596.0 47.9,613.1 48.3,625.9 C48.7,638.7 49.3,656.0 49.9,666.7 C50.5,677.4 51.2,683.4 51.8,690.0 C52.4,696.6 52.7,699.4 53.4,706.1 C54.1,712.8 54.9,722.7 55.8,730.2 C56.7,737.7 57.8,745.0 59.0,751.2 C60.2,757.4 61.5,762.2 63.0,767.3 C64.5,772.4 66.2,777.5 67.9,781.8 C69.7,786.1 71.5,789.6 73.5,793.0 C75.5,796.4 77.8,799.5 79.9,801.9 C82.1,804.3 84.0,806.2 86.4,807.5 C88.8,808.8 91.4,809.4 94.4,809.6 C97.4,809.9 101.5,809.1 104.4,809.0 C107.3,808.9 109.5,808.9 111.7,808.8 C113.9,808.7 115.5,808.6 117.5,808.5 C119.5,808.4 121.7,808.6 123.4,808.2 C125.1,807.8 126.5,807.2 127.7,806.0 C128.9,804.8 129.6,803.2 130.6,801.0 C131.6,798.8 132.8,796.0 133.6,793.0 C134.4,790.0 134.8,786.9 135.5,783.0 C136.2,779.1 137.1,775.4 137.9,769.8 C138.7,764.2 139.5,755.9 140.2,749.3 C140.9,742.7 141.6,735.8 142.2,730.3 C142.8,724.8 143.4,720.2 144.0,716.6 C144.6,713.0 145.2,708.8 146.0,708.8 C146.8,708.8 148.0,713.0 149.1,716.6 C150.2,720.2 151.3,725.7 152.6,730.3 C153.9,734.9 155.2,740.4 156.9,744.1 C158.6,747.9 160.5,750.5 162.9,752.8 C165.3,755.1 168.4,756.2 171.6,757.9 C174.8,759.6 179.5,762.0 181.9,763.1 C184.3,764.2 183.5,763.8 186.0,764.4 C188.5,765.0 193.3,766.4 196.9,766.6 C200.5,766.8 204.2,766.4 207.8,765.5 C211.5,764.6 215.2,763.0 218.8,761.2 C222.5,759.4 226.0,757.2 229.7,754.6 C233.3,752.0 237.0,748.0 240.7,745.8 C244.3,743.6 247.9,742.2 251.6,741.5 C255.2,740.8 259.0,741.3 262.6,741.5 C266.2,741.7 269.9,743.1 273.5,742.6 C277.1,742.1 280.9,740.2 284.5,738.2 C288.1,736.2 291.8,733.2 295.4,730.5 C299.0,727.8 303.5,723.5 306.4,721.7 C309.3,719.9 311.2,719.6 313.0,719.6 C314.8,719.6 316.0,719.7 317.3,721.7 C318.6,723.7 320.1,730.0 320.6,731.6" fill="none" stroke="#8064A2" stroke-width="1.9" stroke-linejoin="round" stroke-linecap="round" clip-path="url(#cd)"/>
<path d="M320.6,731.6 C320.4,734.9 320.4,745.5 319.5,751.3 C318.6,757.1 316.9,762.6 315.1,766.6 C313.3,770.6 310.8,773.2 308.6,775.4 C306.4,777.6 304.6,778.7 302.0,779.8 C299.4,780.9 296.1,782.2 293.2,782.0 C290.3,781.8 287.8,779.4 284.5,778.7 C281.2,778.0 277.1,778.0 273.5,777.6 C269.9,777.2 268.1,776.5 262.6,776.5 C257.1,776.5 248.0,777.1 240.7,777.6 C233.4,778.1 226.1,778.9 218.8,779.8 C211.5,780.7 203.4,782.4 196.9,783.1 C190.4,783.8 184.5,783.7 180.0,784.2 C175.5,784.7 172.9,785.6 170.1,786.3 C167.3,787.0 165.2,787.7 163.1,788.6 C160.9,789.5 158.8,790.4 157.2,791.5 C155.6,792.6 154.9,793.8 153.7,795.0 C152.5,796.2 151.4,796.2 150.2,798.5 C149.0,800.8 147.7,806.3 146.7,809.0 C145.7,811.7 145.4,812.9 144.4,814.9 C143.4,816.9 142.1,819.2 140.9,820.7 C139.7,822.2 138.6,823.8 137.4,824.0 C136.2,824.2 135.3,823.0 133.9,821.9 C132.5,820.8 130.9,818.8 129.2,817.2 C127.4,815.7 125.4,813.6 123.4,812.6 C121.5,811.6 119.5,811.2 117.5,811.4 C115.5,811.6 113.9,813.3 111.7,813.7 C109.5,814.1 107.0,814.0 104.4,813.9 C101.8,813.8 99.0,813.5 96.3,813.1 C93.6,812.7 91.0,812.0 88.3,811.5 C85.6,811.0 82.9,810.4 80.2,809.9 C77.5,809.4 74.6,809.1 72.2,808.3 C69.8,807.5 67.7,806.6 65.8,805.1 C63.9,803.6 62.5,801.8 60.9,799.5 C59.3,797.2 57.7,794.1 56.1,791.4 C54.5,788.7 52.9,786.1 51.3,783.4 C49.7,780.7 47.2,776.6 46.4,775.3" fill="none" stroke="#8064A2" stroke-width="1.9" stroke-linejoin="round" stroke-linecap="round" clip-path="url(#cd)"/>
<path d="M47.6,590.0 C47.8,596.0 48.2,613.1 48.6,625.9 C49.0,638.7 49.6,656.0 50.2,666.7 C50.8,677.4 51.5,683.4 52.1,690.0 C52.7,696.6 53.0,699.4 53.7,706.1 C54.4,712.8 55.2,722.7 56.1,730.2 C57.0,737.7 58.1,745.0 59.3,751.2 C60.5,757.4 61.8,762.2 63.3,767.3 C64.8,772.4 66.5,777.5 68.2,781.8 C70.0,786.1 71.8,789.6 73.8,793.0 C75.8,796.4 78.0,799.5 80.2,801.9 C82.4,804.3 84.3,806.2 86.7,807.5 C89.1,808.8 91.5,809.7 94.7,809.9 C97.9,810.1 103.0,808.7 105.8,808.5 C108.6,808.3 109.8,808.6 111.7,808.5 C113.7,808.4 115.5,808.0 117.5,807.9 C119.5,807.8 121.7,808.3 123.4,807.9 C125.2,807.5 126.8,806.7 128.0,805.5 C129.2,804.3 129.9,803.0 130.9,800.9 C131.9,798.8 133.1,795.6 133.9,792.7 C134.7,789.8 135.0,786.9 135.6,783.4 C136.2,779.9 136.9,775.6 137.4,771.7 C137.9,767.8 138.0,768.0 138.5,760.0 C139.0,752.0 139.7,735.2 140.5,723.4 C141.3,711.6 142.2,700.5 143.1,689.0 C144.0,677.5 144.8,663.3 145.7,654.5 C146.6,645.7 147.4,636.4 148.3,636.4 C149.2,636.4 150.1,648.0 150.9,654.5 C151.8,661.0 152.6,668.6 153.4,675.2 C154.2,681.8 155.0,687.8 156.0,694.1 C157.0,700.4 158.3,708.2 159.5,713.1 C160.7,718.0 161.5,720.2 162.9,723.4 C164.3,726.6 166.1,729.5 168.1,732.1 C170.1,734.7 172.7,737.0 175.0,739.0 C177.3,741.0 180.1,743.0 181.9,744.1 C183.7,745.2 183.5,744.1 186.0,745.5 C188.5,746.9 193.3,750.5 196.9,752.4 C200.5,754.3 204.2,755.7 207.8,756.8 C211.5,757.9 215.2,759.2 218.8,759.0 C222.5,758.8 226.0,757.7 229.7,755.7 C233.3,753.7 237.0,750.7 240.7,746.9 C244.3,743.1 247.9,736.4 251.6,732.7 C255.2,729.0 259.3,725.5 262.6,724.6 C265.9,723.7 268.4,725.9 271.3,727.2 C274.2,728.6 277.2,731.8 280.1,732.7 C283.0,733.6 286.0,734.4 288.9,732.7 C291.8,731.1 294.7,726.3 297.6,722.8 C300.5,719.3 303.8,714.3 306.4,711.9 C309.0,709.5 311.0,709.0 313.0,708.6 C315.0,708.2 317.2,708.4 318.4,709.7 C319.6,711.0 319.7,715.2 320.0,716.3" fill="none" stroke="#4BACC6" stroke-width="1.9" stroke-linejoin="round" stroke-linecap="round" clip-path="url(#cd)"/>
<path d="M320.0,716.3 C319.7,718.5 319.2,724.7 318.4,729.4 C317.6,734.1 317.1,740.0 315.1,744.7 C313.1,749.5 309.7,754.4 306.4,757.9 C303.1,761.4 299.0,763.3 295.4,765.5 C291.8,767.7 288.1,769.5 284.5,771.0 C280.9,772.5 277.1,773.4 273.5,774.3 C269.9,775.2 268.1,775.8 262.6,776.5 C257.1,777.2 248.0,777.8 240.7,778.7 C233.4,779.6 226.1,780.5 218.8,782.0 C211.5,783.5 203.4,785.9 196.9,787.4 C190.4,788.9 183.7,789.7 180.0,791.0 C176.3,792.3 176.3,793.8 174.7,795.0 C173.0,796.2 171.4,797.4 170.1,798.0 C168.8,798.6 167.8,798.8 166.6,798.5 C165.4,798.2 164.5,796.5 163.1,796.2 C161.7,795.9 160.0,795.8 158.4,796.8 C156.8,797.8 155.1,800.0 153.7,802.0 C152.3,804.0 151.4,806.3 150.2,809.0 C149.0,811.7 147.9,815.5 146.7,818.4 C145.5,821.3 144.4,824.6 143.2,826.6 C142.0,828.6 141.1,829.9 139.7,830.1 C138.3,830.3 136.8,828.9 135.0,827.7 C133.2,826.5 131.1,824.7 129.2,823.1 C127.3,821.5 125.4,819.8 123.4,818.4 C121.5,817.0 119.3,815.6 117.5,814.9 C115.7,814.2 114.6,814.2 112.4,814.3 C110.2,814.4 107.1,814.9 104.4,815.5 C101.7,816.1 99.0,817.3 96.3,818.0 C93.6,818.7 91.0,819.7 88.3,819.6 C85.6,819.5 82.9,818.2 80.2,817.2 C77.5,816.2 74.6,815.5 72.2,813.9 C69.8,812.3 68.0,810.2 65.8,807.5 C63.6,804.8 61.4,801.3 59.3,797.8 C57.1,794.3 55.0,790.1 52.9,786.6 C50.8,783.1 47.5,778.5 46.4,776.9" fill="none" stroke="#4BACC6" stroke-width="1.9" stroke-linejoin="round" stroke-linecap="round" clip-path="url(#cd)"/>
<clipPath id="ce"><rect x="401" y="591" width="276" height="242"/></clipPath>
<line x1="401.5" y1="591.7" x2="401.5" y2="832.1" stroke="#D0D0D0" stroke-width="1.3"/>
<line x1="401.5" y1="832.1" x2="674.6" y2="832.1" stroke="#D0D0D0" stroke-width="1.3"/>
<text x="377.13" y="609.4" font-size="7.4" font-weight="bold" fill="#000" textLength="6.39" lengthAdjust="spacingAndGlyphs">3</text>
<text x="383.51" y="609.4" font-size="7.4" font-weight="bold" fill="#000" textLength="6.39" lengthAdjust="spacingAndGlyphs">7</text>
<text x="377.13" y="634.4" font-size="7.4" font-weight="bold" fill="#000" textLength="6.39" lengthAdjust="spacingAndGlyphs">3</text>
<text x="383.51" y="634.4" font-size="7.4" font-weight="bold" fill="#000" textLength="6.39" lengthAdjust="spacingAndGlyphs">2</text>
<text x="377.13" y="659.5" font-size="7.4" font-weight="bold" fill="#000" textLength="6.39" lengthAdjust="spacingAndGlyphs">2</text>
<text x="383.51" y="659.5" font-size="7.4" font-weight="bold" fill="#000" textLength="6.39" lengthAdjust="spacingAndGlyphs">7</text>
<text x="377.13" y="684.5" font-size="7.4" font-weight="bold" fill="#000" textLength="6.39" lengthAdjust="spacingAndGlyphs">2</text>
<text x="383.51" y="684.5" font-size="7.4" font-weight="bold" fill="#000" textLength="6.39" lengthAdjust="spacingAndGlyphs">2</text>
<text x="377.13" y="709.5" font-size="7.4" font-weight="bold" fill="#000" textLength="6.39" lengthAdjust="spacingAndGlyphs">1</text>
<text x="383.51" y="709.5" font-size="7.4" font-weight="bold" fill="#000" textLength="6.39" lengthAdjust="spacingAndGlyphs">7</text>
<text x="377.13" y="734.5" font-size="7.4" font-weight="bold" fill="#000" textLength="6.39" lengthAdjust="spacingAndGlyphs">1</text>
<text x="383.51" y="734.5" font-size="7.4" font-weight="bold" fill="#000" textLength="6.39" lengthAdjust="spacingAndGlyphs">2</text>
<text x="383.51" y="759.6" font-size="7.4" font-weight="bold" fill="#000" textLength="6.39" lengthAdjust="spacingAndGlyphs">7</text>
<text x="383.51" y="784.6" font-size="7.4" font-weight="bold" fill="#000" textLength="6.39" lengthAdjust="spacingAndGlyphs">2</text>
<text x="379.66" y="809.6" font-size="7.4" font-weight="bold" fill="#000" textLength="3.86" lengthAdjust="spacingAndGlyphs">-</text>
<text x="383.51" y="809.6" font-size="7.4" font-weight="bold" fill="#000" textLength="6.39" lengthAdjust="spacingAndGlyphs">3</text>
<text x="379.66" y="834.7" font-size="7.4" font-weight="bold" fill="#000" textLength="3.86" lengthAdjust="spacingAndGlyphs">-</text>
<text x="383.51" y="834.7" font-size="7.4" font-weight="bold" fill="#000" textLength="6.39" lengthAdjust="spacingAndGlyphs">8</text>
<text x="391.83" y="847.0" font-size="7.2" font-weight="bold" fill="#000" textLength="3.77" lengthAdjust="spacingAndGlyphs">-</text>
<text x="395.60" y="847.0" font-size="7.2" font-weight="bold" fill="#000" textLength="6.23" lengthAdjust="spacingAndGlyphs">0</text>
<text x="401.83" y="847.0" font-size="7.2" font-weight="bold" fill="#000" textLength="3.11" lengthAdjust="spacingAndGlyphs">.</text>
<text x="404.94" y="847.0" font-size="7.2" font-weight="bold" fill="#000" textLength="6.23" lengthAdjust="spacingAndGlyphs">2</text>
<text x="452.98" y="847.0" font-size="7.2" font-weight="bold" fill="#000" textLength="6.23" lengthAdjust="spacingAndGlyphs">0</text>
<text x="502.91" y="847.0" font-size="7.2" font-weight="bold" fill="#000" textLength="6.23" lengthAdjust="spacingAndGlyphs">0</text>
<text x="509.15" y="847.0" font-size="7.2" font-weight="bold" fill="#000" textLength="3.11" lengthAdjust="spacingAndGlyphs">.</text>
<text x="512.25" y="847.0" font-size="7.2" font-weight="bold" fill="#000" textLength="6.23" lengthAdjust="spacingAndGlyphs">2</text>
<text x="557.51" y="847.0" font-size="7.2" font-weight="bold" fill="#000" textLength="6.23" lengthAdjust="spacingAndGlyphs">0</text>
<text x="563.75" y="847.0" font-size="7.2" font-weight="bold" fill="#000" textLength="3.11" lengthAdjust="spacingAndGlyphs">.</text>
<text x="566.85" y="847.0" font-size="7.2" font-weight="bold" fill="#000" textLength="6.23" lengthAdjust="spacingAndGlyphs">4</text>
<text x="612.11" y="847.0" font-size="7.2" font-weight="bold" fill="#000" textLength="6.23" lengthAdjust="spacingAndGlyphs">0</text>
<text x="618.35" y="847.0" font-size="7.2" font-weight="bold" fill="#000" textLength="3.11" lengthAdjust="spacingAndGlyphs">.</text>
<text x="621.45" y="847.0" font-size="7.2" font-weight="bold" fill="#000" textLength="6.23" lengthAdjust="spacingAndGlyphs">6</text>
<text x="666.71" y="847.0" font-size="7.2" font-weight="bold" fill="#000" textLength="6.23" lengthAdjust="spacingAndGlyphs">0</text>
<text x="672.95" y="847.0" font-size="7.2" font-weight="bold" fill="#000" textLength="3.11" lengthAdjust="spacingAndGlyphs">.</text>
<text x="676.05" y="847.0" font-size="7.2" font-weight="bold" fill="#000" textLength="6.23" lengthAdjust="spacingAndGlyphs">8</text>
<text x="455.90" y="864.5" font-size="7.5" font-weight="bold" fill="#000" textLength="6.05" lengthAdjust="spacingAndGlyphs">E</text>
<line x1="462.53" y1="865.77" x2="466.19" y2="858.80" stroke="#000" stroke-width="1.05"/>
<text x="466.77" y="864.5" font-size="7.5" font-weight="bold" fill="#000" textLength="7.42" lengthAdjust="spacingAndGlyphs">V</text>
<text x="476.99" y="864.5" font-size="7.5" font-weight="bold" fill="#000" textLength="3.87" lengthAdjust="spacingAndGlyphs">(</text>
<text x="480.86" y="864.5" font-size="7.5" font-weight="bold" fill="#000" textLength="5.89" lengthAdjust="spacingAndGlyphs">v</text>
<text x="486.75" y="864.5" font-size="7.5" font-weight="bold" fill="#000" textLength="4.97" lengthAdjust="spacingAndGlyphs">s</text>
<text x="494.53" y="864.5" font-size="7.5" font-weight="bold" fill="#000" textLength="7.53" lengthAdjust="spacingAndGlyphs">A</text>
<text x="502.06" y="864.5" font-size="7.5" font-weight="bold" fill="#000" textLength="5.87" lengthAdjust="spacingAndGlyphs">g</text>
<line x1="508.51" y1="865.77" x2="512.17" y2="858.80" stroke="#000" stroke-width="1.05"/>
<text x="512.74" y="864.5" font-size="7.5" font-weight="bold" fill="#000" textLength="7.53" lengthAdjust="spacingAndGlyphs">A</text>
<text x="520.27" y="864.5" font-size="7.5" font-weight="bold" fill="#000" textLength="5.87" lengthAdjust="spacingAndGlyphs">g</text>
<text x="526.14" y="864.5" font-size="7.5" font-weight="bold" fill="#000" textLength="6.61" lengthAdjust="spacingAndGlyphs">C</text>
<text x="532.75" y="864.5" font-size="7.5" font-weight="bold" fill="#000" textLength="3.06" lengthAdjust="spacingAndGlyphs">l</text>
<text x="535.81" y="864.5" font-size="7.5" font-weight="bold" fill="#000" textLength="3.20" lengthAdjust="spacingAndGlyphs">,</text>
<text x="541.82" y="864.5" font-size="7.5" font-weight="bold" fill="#000" textLength="6.75" lengthAdjust="spacingAndGlyphs">K</text>
<text x="548.57" y="864.5" font-size="7.5" font-weight="bold" fill="#000" textLength="6.61" lengthAdjust="spacingAndGlyphs">C</text>
<text x="555.17" y="864.5" font-size="7.5" font-weight="bold" fill="#000" textLength="3.06" lengthAdjust="spacingAndGlyphs">l</text>
<text x="558.23" y="864.5" font-size="7.5" font-weight="bold" fill="#000" textLength="3.87" lengthAdjust="spacingAndGlyphs">)</text>
<text transform="translate(365.40,726.48) rotate(-90) scale(0.919,1.620)" font-size="7.0" font-weight="bold" fill="#000" style="stroke-width:0.12px">A</text>
<text transform="translate(365.40,731.67) rotate(-90) scale(1.013,1.620)" font-size="7.0" font-weight="bold" fill="#000" style="stroke-width:0.12px">μ</text>
<text transform="translate(366.90,735.61) rotate(-90) scale(1.738,2.071)" font-size="7.0" font-weight="bold" fill="#000" style="stroke-width:0.12px">/</text>
<text transform="translate(365.40,738.03) rotate(-90) scale(1.143,1.620)" font-size="7.0" font-weight="bold" fill="#000" style="stroke-width:0.12px">I</text>
<text x="537.18" y="600.20" font-size="12.5" font-weight="bold" fill="#000" textLength="6.24" lengthAdjust="spacingAndGlyphs" style="stroke-width:0.05px">(</text>
<text x="544.88" y="600.20" font-size="12.5" font-weight="bold" fill="#000" textLength="11.74" lengthAdjust="spacingAndGlyphs" style="stroke-width:0.05px">e</text>
<text x="557.68" y="600.20" font-size="12.5" font-weight="bold" fill="#000" textLength="5.88" lengthAdjust="spacingAndGlyphs" style="stroke-width:0.05px">)</text>
<line x1="443.9" y1="596.8" x2="461.5" y2="596.8" stroke="#4F81BD" stroke-width="1.4"/>
<text x="463.50" y="599.2" font-size="6.8" font-weight="bold" fill="#000" textLength="6.73" lengthAdjust="spacingAndGlyphs">G</text>
<text x="470.23" y="599.2" font-size="6.8" font-weight="bold" fill="#000" textLength="5.67" lengthAdjust="spacingAndGlyphs">C</text>
<text x="475.90" y="599.2" font-size="6.8" font-weight="bold" fill="#000" textLength="5.20" lengthAdjust="spacingAndGlyphs">E</text>
<text x="481.10" y="599.2" font-size="6.8" font-weight="bold" fill="#000" textLength="3.27" lengthAdjust="spacingAndGlyphs">-</text>
<text x="484.37" y="599.2" font-size="6.8" font-weight="bold" fill="#000" textLength="5.96" lengthAdjust="spacingAndGlyphs">B</text>
<text x="490.33" y="599.2" font-size="6.8" font-weight="bold" fill="#000" textLength="6.47" lengthAdjust="spacingAndGlyphs">A</text>
<text x="496.79" y="599.2" font-size="6.8" font-weight="bold" fill="#000" textLength="6.01" lengthAdjust="spacingAndGlyphs">R</text>
<text x="502.80" y="599.2" font-size="6.8" font-weight="bold" fill="#000" textLength="5.20" lengthAdjust="spacingAndGlyphs">E</text>
<line x1="443.9" y1="617.1" x2="461.5" y2="617.1" stroke="#C0504D" stroke-width="1.4"/>
<text x="463.50" y="619.5" font-size="6.8" font-weight="bold" fill="#000" textLength="6.79" lengthAdjust="spacingAndGlyphs">G</text>
<text x="470.29" y="619.5" font-size="6.8" font-weight="bold" fill="#000" textLength="5.72" lengthAdjust="spacingAndGlyphs">C</text>
<text x="476.02" y="619.5" font-size="6.8" font-weight="bold" fill="#000" textLength="5.25" lengthAdjust="spacingAndGlyphs">E</text>
<text x="481.26" y="619.5" font-size="6.8" font-weight="bold" fill="#000" textLength="3.30" lengthAdjust="spacingAndGlyphs">-</text>
<text x="484.56" y="619.5" font-size="6.8" font-weight="bold" fill="#000" textLength="5.26" lengthAdjust="spacingAndGlyphs">Z</text>
<text x="489.82" y="619.5" font-size="6.8" font-weight="bold" fill="#000" textLength="5.78" lengthAdjust="spacingAndGlyphs">n</text>
<text x="495.60" y="619.5" font-size="6.8" font-weight="bold" fill="#000" textLength="7.20" lengthAdjust="spacingAndGlyphs">O</text>
<line x1="443.9" y1="636.2" x2="461.5" y2="636.2" stroke="#9BBB59" stroke-width="1.4"/>
<text x="463.50" y="638.6" font-size="6.8" font-weight="bold" fill="#000" textLength="6.80" lengthAdjust="spacingAndGlyphs">G</text>
<text x="470.30" y="638.6" font-size="6.8" font-weight="bold" fill="#000" textLength="5.73" lengthAdjust="spacingAndGlyphs">C</text>
<text x="476.03" y="638.6" font-size="6.8" font-weight="bold" fill="#000" textLength="5.25" lengthAdjust="spacingAndGlyphs">E</text>
<text x="481.28" y="638.6" font-size="6.8" font-weight="bold" fill="#000" textLength="3.30" lengthAdjust="spacingAndGlyphs">-</text>
<text x="484.58" y="638.6" font-size="6.8" font-weight="bold" fill="#000" textLength="5.46" lengthAdjust="spacingAndGlyphs">2</text>
<text x="490.04" y="638.6" font-size="6.8" font-weight="bold" fill="#000" textLength="5.46" lengthAdjust="spacingAndGlyphs">9</text>
<text x="495.50" y="638.6" font-size="6.8" font-weight="bold" fill="#000" textLength="6.83" lengthAdjust="spacingAndGlyphs">H</text>
<text x="502.33" y="638.6" font-size="6.8" font-weight="bold" fill="#000" textLength="2.78" lengthAdjust="spacingAndGlyphs">,</text>
<text x="505.11" y="638.6" font-size="6.8" font-weight="bold" fill="#000" textLength="5.46" lengthAdjust="spacingAndGlyphs">3</text>
<text x="510.57" y="638.6" font-size="6.8" font-weight="bold" fill="#000" textLength="5.46" lengthAdjust="spacingAndGlyphs">1</text>
<text x="516.04" y="638.6" font-size="6.8" font-weight="bold" fill="#000" textLength="6.83" lengthAdjust="spacingAndGlyphs">H</text>
<text x="522.87" y="638.6" font-size="6.8" font-weight="bold" fill="#000" textLength="3.30" lengthAdjust="spacingAndGlyphs">-</text>
<text x="526.17" y="638.6" font-size="6.8" font-weight="bold" fill="#000" textLength="5.73" lengthAdjust="spacingAndGlyphs">P</text>
<text x="531.90" y="638.6" font-size="6.8" font-weight="bold" fill="#000" textLength="4.50" lengthAdjust="spacingAndGlyphs">c</text>
<line x1="443.9" y1="655.9" x2="461.5" y2="655.9" stroke="#8064A2" stroke-width="1.4"/>
<text x="463.50" y="658.3" font-size="6.8" font-weight="bold" fill="#000" textLength="6.76" lengthAdjust="spacingAndGlyphs">G</text>
<text x="470.26" y="658.3" font-size="6.8" font-weight="bold" fill="#000" textLength="5.70" lengthAdjust="spacingAndGlyphs">C</text>
<text x="475.96" y="658.3" font-size="6.8" font-weight="bold" fill="#000" textLength="5.22" lengthAdjust="spacingAndGlyphs">E</text>
<text x="481.19" y="658.3" font-size="6.8" font-weight="bold" fill="#000" textLength="3.28" lengthAdjust="spacingAndGlyphs">-</text>
<text x="484.47" y="658.3" font-size="6.8" font-weight="bold" fill="#000" textLength="9.34" lengthAdjust="spacingAndGlyphs">M</text>
<text x="493.81" y="658.3" font-size="6.8" font-weight="bold" fill="#000" textLength="9.69" lengthAdjust="spacingAndGlyphs">W</text>
<text x="503.49" y="658.3" font-size="6.8" font-weight="bold" fill="#000" textLength="5.70" lengthAdjust="spacingAndGlyphs">C</text>
<text x="509.19" y="658.3" font-size="6.8" font-weight="bold" fill="#000" textLength="6.97" lengthAdjust="spacingAndGlyphs">N</text>
<text x="516.17" y="658.3" font-size="6.8" font-weight="bold" fill="#000" textLength="5.23" lengthAdjust="spacingAndGlyphs">T</text>
<line x1="443.9" y1="675.6" x2="461.5" y2="675.6" stroke="#4BACC6" stroke-width="1.4"/>
<text x="463.50" y="678.0" font-size="6.8" font-weight="bold" fill="#000" textLength="6.83" lengthAdjust="spacingAndGlyphs">G</text>
<text x="470.33" y="678.0" font-size="6.8" font-weight="bold" fill="#000" textLength="5.76" lengthAdjust="spacingAndGlyphs">C</text>
<text x="476.09" y="678.0" font-size="6.8" font-weight="bold" fill="#000" textLength="5.28" lengthAdjust="spacingAndGlyphs">E</text>
<text x="481.37" y="678.0" font-size="6.8" font-weight="bold" fill="#000" textLength="3.32" lengthAdjust="spacingAndGlyphs">-</text>
<text x="484.68" y="678.0" font-size="6.8" font-weight="bold" fill="#000" textLength="9.43" lengthAdjust="spacingAndGlyphs">M</text>
<text x="494.12" y="678.0" font-size="6.8" font-weight="bold" fill="#000" textLength="9.79" lengthAdjust="spacingAndGlyphs">W</text>
<text x="503.90" y="678.0" font-size="6.8" font-weight="bold" fill="#000" textLength="5.76" lengthAdjust="spacingAndGlyphs">C</text>
<text x="509.66" y="678.0" font-size="6.8" font-weight="bold" fill="#000" textLength="7.04" lengthAdjust="spacingAndGlyphs">N</text>
<text x="516.70" y="678.0" font-size="6.8" font-weight="bold" fill="#000" textLength="5.29" lengthAdjust="spacingAndGlyphs">T</text>
<line x1="522.50" y1="679.20" x2="525.68" y2="672.88" stroke="#000" stroke-width="0.95"/>
<text x="526.19" y="678.0" font-size="6.8" font-weight="bold" fill="#000" textLength="5.29" lengthAdjust="spacingAndGlyphs">Z</text>
<text x="531.47" y="678.0" font-size="6.8" font-weight="bold" fill="#000" textLength="5.82" lengthAdjust="spacingAndGlyphs">n</text>
<text x="537.29" y="678.0" font-size="6.8" font-weight="bold" fill="#000" textLength="7.24" lengthAdjust="spacingAndGlyphs">O</text>
<line x1="545.04" y1="679.20" x2="548.22" y2="672.88" stroke="#000" stroke-width="0.95"/>
<text x="548.73" y="678.0" font-size="6.8" font-weight="bold" fill="#000" textLength="5.49" lengthAdjust="spacingAndGlyphs">2</text>
<text x="554.22" y="678.0" font-size="6.8" font-weight="bold" fill="#000" textLength="5.49" lengthAdjust="spacingAndGlyphs">9</text>
<text x="559.70" y="678.0" font-size="6.8" font-weight="bold" fill="#000" textLength="6.86" lengthAdjust="spacingAndGlyphs">H</text>
<text x="566.57" y="678.0" font-size="6.8" font-weight="bold" fill="#000" textLength="2.79" lengthAdjust="spacingAndGlyphs">,</text>
<text x="569.36" y="678.0" font-size="6.8" font-weight="bold" fill="#000" textLength="5.49" lengthAdjust="spacingAndGlyphs">3</text>
<text x="574.85" y="678.0" font-size="6.8" font-weight="bold" fill="#000" textLength="5.49" lengthAdjust="spacingAndGlyphs">1</text>
<text x="580.34" y="678.0" font-size="6.8" font-weight="bold" fill="#000" textLength="6.86" lengthAdjust="spacingAndGlyphs">H</text>
<text x="587.20" y="678.0" font-size="6.8" font-weight="bold" fill="#000" textLength="3.32" lengthAdjust="spacingAndGlyphs">-</text>
<text x="590.52" y="678.0" font-size="6.8" font-weight="bold" fill="#000" textLength="5.76" lengthAdjust="spacingAndGlyphs">P</text>
<text x="596.27" y="678.0" font-size="6.8" font-weight="bold" fill="#000" textLength="4.53" lengthAdjust="spacingAndGlyphs">c</text>
<path d="M401.5,790.5 C409.6,790.5 433.6,790.8 450.0,790.8 C466.4,790.8 486.7,791.1 500.0,790.5 C513.3,789.9 516.7,788.0 530.0,787.3 C543.3,786.5 555.9,786.5 580.0,786.0 C604.1,785.5 658.8,784.3 674.5,784.0" fill="none" stroke="#9BBB59" stroke-width="1.5" stroke-linejoin="round" stroke-linecap="round" clip-path="url(#ce)"/>
<path d="M674.5,786.0 C662.1,786.3 629.1,787.3 600.0,788.0 C570.9,788.7 533.1,789.4 500.0,790.0 C466.9,790.6 417.9,791.2 401.5,791.5" fill="none" stroke="#9BBB59" stroke-width="1.3" stroke-linejoin="round" stroke-linecap="round" clip-path="url(#ce)"/>
<path d="M401.5,789.0 C409.6,789.2 433.6,790.2 450.0,790.5 C466.4,790.8 486.7,790.7 500.0,790.5 C513.3,790.3 513.3,789.8 530.0,789.5 C546.7,789.2 575.9,789.2 600.0,789.0 C624.1,788.8 662.1,788.5 674.5,788.4" fill="none" stroke="#C0504D" stroke-width="1.5" stroke-linejoin="round" stroke-linecap="round" clip-path="url(#ce)"/>
<path d="M401.5,791.0 C414.6,791.0 461.9,791.5 480.0,791.0 C498.1,790.5 501.7,789.0 510.0,788.0 C518.3,787.0 523.0,786.0 530.0,785.1 C537.0,784.2 540.9,783.1 551.9,782.9 C562.9,782.7 575.3,783.5 595.7,784.0 C616.1,784.5 661.4,785.8 674.5,786.2" fill="none" stroke="#4F81BD" stroke-width="1.5" stroke-linejoin="round" stroke-linecap="round" clip-path="url(#ce)"/>
<path d="M401.7,590.0 C401.9,598.3 402.3,627.1 402.6,640.0 C402.9,652.9 403.1,658.4 403.5,667.6 C403.9,676.8 404.4,686.1 405.0,695.3 C405.6,704.5 406.2,714.6 407.2,722.9 C408.2,731.2 409.4,738.6 410.9,745.1 C412.4,751.6 414.2,757.1 416.4,761.7 C418.5,766.3 421.0,769.5 423.8,772.7 C426.6,775.9 429.6,778.5 433.0,781.0 C436.4,783.5 440.7,785.8 444.1,787.5 C447.5,789.2 450.7,790.3 453.3,791.2 C455.9,792.1 457.5,792.5 460.0,792.7 C462.5,792.9 465.9,792.8 468.4,792.4 C470.9,792.0 473.2,791.1 475.1,790.2 C477.1,789.3 478.4,789.0 480.1,786.8 C481.8,784.6 483.4,781.2 485.1,776.8 C486.8,772.3 488.4,766.2 490.1,760.1 C491.8,754.0 493.6,745.9 495.1,740.1 C496.6,734.3 498.2,728.2 499.3,725.1 C500.4,722.0 500.8,721.7 501.8,721.7 C502.8,721.7 503.7,723.3 505.1,725.1 C506.5,726.9 508.2,730.8 510.1,732.6 C512.0,734.4 514.6,735.1 516.8,735.9 C519.0,736.7 521.3,737.1 523.5,737.6 C525.7,738.1 528.1,738.2 530.0,738.6 C531.9,739.0 533.2,739.4 535.0,740.0 C536.8,740.6 538.2,741.5 541.0,742.4 C543.8,743.3 548.3,744.8 551.9,745.3 C555.5,745.8 559.1,746.0 562.8,745.7 C566.4,745.4 570.1,744.4 573.8,743.5 C577.4,742.6 581.1,741.1 584.7,740.2 C588.4,739.3 592.1,738.2 595.7,738.0 C599.4,737.8 603.0,738.2 606.6,738.7 C610.2,739.2 614.0,740.6 617.6,740.9 C621.2,741.1 624.9,740.8 628.5,740.2 C632.1,739.6 636.2,738.1 639.5,737.4 C642.8,736.7 646.0,735.7 648.2,735.8 C650.4,735.9 651.1,736.4 652.6,738.0 C654.1,739.6 655.5,742.6 657.0,745.7 C658.5,748.8 659.9,753.0 661.4,756.6 C662.9,760.2 664.5,764.9 665.8,767.6 C667.1,770.4 667.9,772.7 669.0,773.1 C670.1,773.5 671.4,771.8 672.3,769.8 C673.2,767.8 674.3,763.9 674.5,761.0 C674.7,758.1 674.5,754.2 673.4,752.3 C672.3,750.4 668.9,750.0 668.0,749.6" fill="none" stroke="#8064A2" stroke-width="1.9" stroke-linejoin="round" stroke-linecap="round" clip-path="url(#ce)"/>
<path d="M668.0,749.6 C666.9,749.6 664.3,749.5 661.4,749.6 C658.5,749.8 654.0,750.0 650.4,750.5 C646.8,751.0 645.0,751.5 639.5,752.3 C634.0,753.1 624.9,754.2 617.6,755.5 C610.3,756.8 603.0,758.6 595.7,759.9 C588.4,761.2 581.1,762.1 573.8,763.2 C566.5,764.3 558.4,765.6 551.9,766.5 C545.4,767.4 539.0,768.0 535.0,768.5 C531.0,769.0 530.3,769.0 527.8,769.5 C525.2,770.0 522.8,770.5 519.7,771.5 C516.6,772.5 512.5,773.6 509.4,775.6 C506.3,777.6 503.7,781.1 501.3,783.8 C498.9,786.5 497.2,790.1 495.1,792.0 C493.1,793.9 491.4,795.0 489.0,795.0 C486.6,795.0 483.5,793.2 480.8,792.0 C478.1,790.8 475.8,788.8 472.7,787.9 C469.6,787.0 465.8,786.9 462.4,786.9 C459.0,786.9 455.6,787.9 452.2,787.9 C448.8,787.9 445.4,786.2 442.0,786.9 C438.6,787.6 435.2,790.6 431.8,792.0 C428.4,793.4 425.0,795.0 421.6,795.0 C418.2,795.0 414.7,793.2 411.3,792.0 C407.9,790.8 403.1,788.6 401.5,787.9" fill="none" stroke="#8064A2" stroke-width="1.9" stroke-linejoin="round" stroke-linecap="round" clip-path="url(#ce)"/>
<path d="M418.5,590.0 C419.1,598.3 421.0,627.1 422.0,640.0 C423.0,652.9 423.6,658.4 424.7,667.6 C425.8,676.8 427.0,687.0 428.4,695.3 C429.8,703.6 431.5,710.6 433.0,717.4 C434.5,724.2 436.1,729.8 437.6,735.9 C439.1,742.0 440.7,748.2 442.2,754.3 C443.7,760.4 445.4,767.2 446.8,772.7 C448.2,778.2 449.4,783.5 450.5,787.5 C451.6,791.5 452.2,792.5 453.4,796.9 C454.6,801.2 456.1,808.9 457.5,813.6 C458.9,818.3 460.6,823.1 461.7,825.2 C462.8,827.3 463.2,826.7 464.2,826.1 C465.2,825.5 466.5,824.3 467.6,821.9 C468.7,819.5 469.8,815.5 470.9,811.9 C472.0,808.3 473.1,803.8 474.2,800.2 C475.3,796.6 476.4,794.4 477.6,790.2 C478.9,786.0 480.2,780.8 481.7,775.2 C483.2,769.6 485.1,763.5 486.8,756.8 C488.5,750.1 490.1,742.3 491.8,735.1 C493.5,727.9 495.1,719.8 496.8,713.4 C498.5,707.0 500.4,700.3 501.8,696.7 C503.2,693.1 504.0,692.3 505.1,692.0 C506.2,691.7 507.1,692.8 508.5,695.0 C509.9,697.2 511.6,702.5 513.5,705.0 C515.4,707.5 517.4,707.6 520.1,710.0 C522.9,712.4 526.5,716.0 530.0,719.4 C533.5,722.8 537.4,727.3 541.0,730.4 C544.6,733.5 548.3,736.0 551.9,738.0 C555.5,740.0 559.1,741.3 562.8,742.4 C566.4,743.5 570.1,744.6 573.8,744.6 C577.4,744.6 581.1,743.3 584.7,742.4 C588.4,741.5 592.1,739.7 595.7,739.1 C599.4,738.5 603.0,738.5 606.6,738.7 C610.2,738.9 614.0,740.1 617.6,740.2 C621.2,740.3 624.9,740.0 628.5,739.1 C632.1,738.2 635.9,736.5 639.5,734.7 C643.1,732.9 646.8,730.8 650.4,728.2 C654.0,725.7 658.1,722.0 661.4,719.4 C664.7,716.8 667.9,714.3 670.1,712.8 C672.3,711.3 673.8,710.6 674.5,710.2" fill="none" stroke="#4BACC6" stroke-width="1.9" stroke-linejoin="round" stroke-linecap="round" clip-path="url(#ce)"/>
<path d="M674.5,710.2 C674.5,711.7 675.2,715.7 674.5,719.4 C673.8,723.1 672.3,728.2 670.1,732.6 C667.9,737.0 664.7,742.1 661.4,745.7 C658.1,749.3 654.0,751.7 650.4,754.4 C646.8,757.1 643.1,760.1 639.5,762.1 C635.9,764.1 632.1,765.4 628.5,766.5 C624.9,767.6 621.2,768.5 617.6,768.7 C614.0,768.9 610.2,767.9 606.6,767.6 C603.0,767.3 599.4,766.7 595.7,767.1 C592.1,767.5 588.4,769.0 584.7,769.8 C581.1,770.6 579.3,770.9 573.8,772.0 C568.3,773.1 558.4,774.8 551.9,776.3 C545.4,777.8 539.0,779.8 535.0,780.7 C531.0,781.6 530.3,782.0 527.8,781.7 C525.2,781.4 522.4,779.4 519.7,778.7 C517.0,778.0 513.9,776.9 511.5,777.7 C509.1,778.6 507.4,780.4 505.4,783.8 C503.3,787.2 500.9,794.2 499.2,798.1 C497.5,802.0 496.3,804.2 495.1,806.9 C493.9,809.6 492.9,812.6 491.8,814.4 C490.7,816.2 489.5,817.6 488.4,817.7 C487.3,817.8 486.4,817.6 485.1,815.2 C483.9,812.8 482.3,807.4 480.9,803.5 C479.5,799.6 478.2,794.9 476.7,791.9 C475.2,788.9 473.4,787.4 471.7,785.2 C470.0,783.0 468.4,781.0 466.7,778.5 C465.0,776.0 463.4,773.2 461.7,770.1 C460.0,767.0 458.4,764.3 456.7,760.1 C455.0,755.9 453.2,750.4 451.7,745.1 C450.2,739.8 448.7,732.0 447.5,728.4 C446.3,724.8 445.6,722.8 444.6,723.6 C443.6,724.4 442.4,729.7 441.5,733.0 C440.6,736.3 440.6,738.7 439.5,743.2 C438.4,747.7 436.4,755.2 434.9,759.8 C433.4,764.4 431.9,768.3 430.3,770.9 C428.8,773.5 427.5,774.3 425.6,775.5 C423.8,776.7 421.0,777.9 419.2,778.2 C417.4,778.5 416.3,777.9 414.6,777.3 C412.9,776.7 410.6,775.8 409.1,774.6 C407.6,773.4 406.7,770.6 405.4,770.0 C404.1,769.4 402.1,770.7 401.5,770.8" fill="none" stroke="#4BACC6" stroke-width="1.9" stroke-linejoin="round" stroke-linecap="round" clip-path="url(#ce)"/>
</svg>
</body></html>
